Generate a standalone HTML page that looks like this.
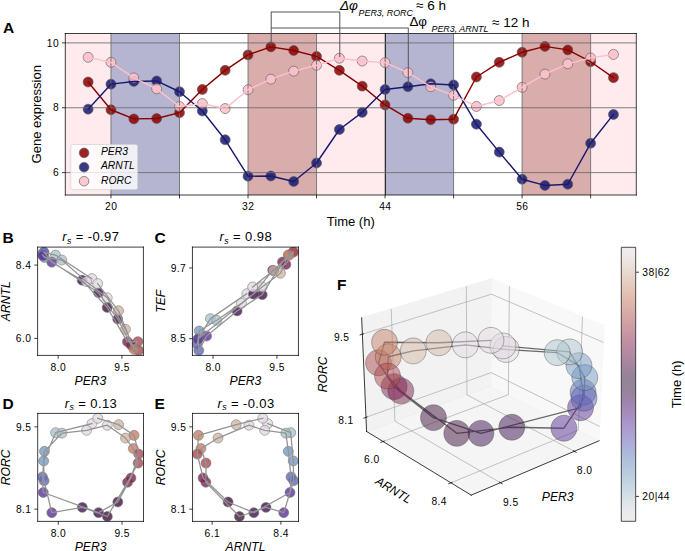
<!DOCTYPE html>
<html><head><meta charset="utf-8"><title>Figure</title>
<style>html,body{margin:0;padding:0;background:#fff;width:685px;height:551px;overflow:hidden}
svg{display:block;font-family:"Liberation Sans",sans-serif}</style></head>
<body>
<svg width="685" height="551" viewBox="0 0 720 579.153285" preserveAspectRatio="none">
<defs>
<style type="text/css">*{stroke-linejoin: round; stroke-linecap: butt}</style>
</defs>
<g id="figure_1">
<g id="patch_1">
<path d="M 0 579.153285 
L 720 579.153285 
L 720 0 
L 0 0 
z
" style="fill: #ffffff"/>
</g>
<g id="axes_1">
<g id="patch_2">
<path d="M 68.636496 204.963504 
L 668.811679 204.963504 
L 668.811679 35.211679 
L 68.636496 35.211679 
z
" style="fill: #ffffff"/>
</g>
<g id="patch_3">
<path d="M 68.636496 204.963504 
L 116.650511 204.963504 
L 116.650511 35.211679 
L 68.636496 35.211679 
z
" clip-path="url(#p367fd7a08f)" style="fill: #ffc0cb; opacity: 0.32"/>
</g>
<g id="patch_4">
<path d="M 116.650511 204.963504 
L 188.671533 204.963504 
L 188.671533 35.211679 
L 116.650511 35.211679 
z
" clip-path="url(#p367fd7a08f)" style="fill: #191970; opacity: 0.32"/>
</g>
<g id="patch_5">
<path d="M 260.692555 204.963504 
L 332.713577 204.963504 
L 332.713577 35.211679 
L 260.692555 35.211679 
z
" clip-path="url(#p367fd7a08f)" style="fill: #8b0000; opacity: 0.32"/>
</g>
<g id="patch_6">
<path d="M 332.713577 204.963504 
L 404.734599 204.963504 
L 404.734599 35.211679 
L 332.713577 35.211679 
z
" clip-path="url(#p367fd7a08f)" style="fill: #ffc0cb; opacity: 0.32"/>
</g>
<g id="patch_7">
<path d="M 404.734599 204.963504 
L 476.75562 204.963504 
L 476.75562 35.211679 
L 404.734599 35.211679 
z
" clip-path="url(#p367fd7a08f)" style="fill: #191970; opacity: 0.32"/>
</g>
<g id="patch_8">
<path d="M 548.776642 204.963504 
L 620.797664 204.963504 
L 620.797664 35.211679 
L 548.776642 35.211679 
z
" clip-path="url(#p367fd7a08f)" style="fill: #8b0000; opacity: 0.32"/>
</g>
<g id="patch_9">
<path d="M 620.797664 204.963504 
L 668.811679 204.963504 
L 668.811679 35.211679 
L 620.797664 35.211679 
z
" clip-path="url(#p367fd7a08f)" style="fill: #ffc0cb; opacity: 0.32"/>
</g>
<g id="line2d_1">
<path d="M 405.19708 204.963504 
L 405.19708 35.211679 
" clip-path="url(#p367fd7a08f)" style="fill: none; stroke: #000000; stroke-width: 1.1; stroke-linecap: square"/>
</g>
<g id="PathCollection_1">
<defs>
<path id="m70aa6a5a08" d="M 0 5.244044 
C 1.390737 5.244044 2.7247 4.691499 3.708099 3.708099 
C 4.691499 2.7247 5.244044 1.390737 5.244044 0 
C 5.244044 -1.390737 4.691499 -2.7247 3.708099 -3.708099 
C 2.7247 -4.691499 1.390737 -5.244044 0 -5.244044 
C -1.390737 -5.244044 -2.7247 -4.691499 -3.708099 -3.708099 
C -4.691499 -2.7247 -5.244044 -1.390737 -5.244044 0 
C -5.244044 1.390737 -4.691499 2.7247 -3.708099 3.708099 
C -2.7247 4.691499 -1.390737 5.244044 0 5.244044 
z
" style="stroke: #606060; stroke-opacity: 0.86; stroke-width: 0.8"/>
</defs>
<g clip-path="url(#p367fd7a08f)">
<use href="#m70aa6a5a08" x="92.643504" y="86.239486" style="fill: #8b0000; fill-opacity: 0.86; stroke: #606060; stroke-opacity: 0.86; stroke-width: 0.8"/>
<use href="#m70aa6a5a08" x="116.650511" y="115.383625" style="fill: #8b0000; fill-opacity: 0.86; stroke: #606060; stroke-opacity: 0.86; stroke-width: 0.8"/>
<use href="#m70aa6a5a08" x="140.657518" y="124.961991" style="fill: #8b0000; fill-opacity: 0.86; stroke: #606060; stroke-opacity: 0.86; stroke-width: 0.8"/>
<use href="#m70aa6a5a08" x="164.664526" y="124.621124" style="fill: #8b0000; fill-opacity: 0.86; stroke: #606060; stroke-opacity: 0.86; stroke-width: 0.8"/>
<use href="#m70aa6a5a08" x="188.671533" y="118.417342" style="fill: #8b0000; fill-opacity: 0.86; stroke: #606060; stroke-opacity: 0.86; stroke-width: 0.8"/>
<use href="#m70aa6a5a08" x="212.67854" y="94.011257" style="fill: #8b0000; fill-opacity: 0.86; stroke: #606060; stroke-opacity: 0.86; stroke-width: 0.8"/>
<use href="#m70aa6a5a08" x="236.685547" y="73.934183" style="fill: #8b0000; fill-opacity: 0.86; stroke: #606060; stroke-opacity: 0.86; stroke-width: 0.8"/>
<use href="#m70aa6a5a08" x="260.692555" y="57.708909" style="fill: #8b0000; fill-opacity: 0.86; stroke: #606060; stroke-opacity: 0.86; stroke-width: 0.8"/>
<use href="#m70aa6a5a08" x="284.699562" y="49.289491" style="fill: #8b0000; fill-opacity: 0.86; stroke: #606060; stroke-opacity: 0.86; stroke-width: 0.8"/>
<use href="#m70aa6a5a08" x="308.706569" y="53.107203" style="fill: #8b0000; fill-opacity: 0.86; stroke: #606060; stroke-opacity: 0.86; stroke-width: 0.8"/>
<use href="#m70aa6a5a08" x="332.713577" y="59.310984" style="fill: #8b0000; fill-opacity: 0.86; stroke: #606060; stroke-opacity: 0.86; stroke-width: 0.8"/>
<use href="#m70aa6a5a08" x="356.720584" y="73.934183" style="fill: #8b0000; fill-opacity: 0.86; stroke: #606060; stroke-opacity: 0.86; stroke-width: 0.8"/>
<use href="#m70aa6a5a08" x="380.727591" y="90.534412" style="fill: #8b0000; fill-opacity: 0.86; stroke: #606060; stroke-opacity: 0.86; stroke-width: 0.8"/>
<use href="#m70aa6a5a08" x="404.734599" y="110.338792" style="fill: #8b0000; fill-opacity: 0.86; stroke: #606060; stroke-opacity: 0.86; stroke-width: 0.8"/>
<use href="#m70aa6a5a08" x="428.741606" y="124.314344" style="fill: #8b0000; fill-opacity: 0.86; stroke: #606060; stroke-opacity: 0.86; stroke-width: 0.8"/>
<use href="#m70aa6a5a08" x="452.748613" y="125.882332" style="fill: #8b0000; fill-opacity: 0.86; stroke: #606060; stroke-opacity: 0.86; stroke-width: 0.8"/>
<use href="#m70aa6a5a08" x="476.75562" y="125.268771" style="fill: #8b0000; fill-opacity: 0.86; stroke: #606060; stroke-opacity: 0.86; stroke-width: 0.8"/>
<use href="#m70aa6a5a08" x="500.762628" y="80.956046" style="fill: #8b0000; fill-opacity: 0.86; stroke: #606060; stroke-opacity: 0.86; stroke-width: 0.8"/>
<use href="#m70aa6a5a08" x="524.769635" y="65.514766" style="fill: #8b0000; fill-opacity: 0.86; stroke: #606060; stroke-opacity: 0.86; stroke-width: 0.8"/>
<use href="#m70aa6a5a08" x="548.776642" y="54.981972" style="fill: #8b0000; fill-opacity: 0.86; stroke: #606060; stroke-opacity: 0.86; stroke-width: 0.8"/>
<use href="#m70aa6a5a08" x="572.78365" y="48.77819" style="fill: #8b0000; fill-opacity: 0.86; stroke: #606060; stroke-opacity: 0.86; stroke-width: 0.8"/>
<use href="#m70aa6a5a08" x="596.790657" y="52.459555" style="fill: #8b0000; fill-opacity: 0.86; stroke: #606060; stroke-opacity: 0.86; stroke-width: 0.8"/>
<use href="#m70aa6a5a08" x="620.797664" y="64.867118" style="fill: #8b0000; fill-opacity: 0.86; stroke: #606060; stroke-opacity: 0.86; stroke-width: 0.8"/>
<use href="#m70aa6a5a08" x="644.804672" y="81.603694" style="fill: #8b0000; fill-opacity: 0.86; stroke: #606060; stroke-opacity: 0.86; stroke-width: 0.8"/>
</g>
</g>
<g id="PathCollection_2">
<defs>
<path id="meea5b03328" d="M 0 5.244044 
C 1.390737 5.244044 2.7247 4.691499 3.708099 3.708099 
C 4.691499 2.7247 5.244044 1.390737 5.244044 0 
C 5.244044 -1.390737 4.691499 -2.7247 3.708099 -3.708099 
C 2.7247 -4.691499 1.390737 -5.244044 0 -5.244044 
C -1.390737 -5.244044 -2.7247 -4.691499 -3.708099 -3.708099 
C -4.691499 -2.7247 -5.244044 -1.390737 -5.244044 0 
C -5.244044 1.390737 -4.691499 2.7247 -3.708099 3.708099 
C -2.7247 4.691499 -1.390737 5.244044 0 5.244044 
z
" style="stroke: #606060; stroke-opacity: 0.86; stroke-width: 0.8"/>
</defs>
<g clip-path="url(#p367fd7a08f)">
<use href="#meea5b03328" x="92.643504" y="114.735977" style="fill: #191970; fill-opacity: 0.86; stroke: #606060; stroke-opacity: 0.86; stroke-width: 0.8"/>
<use href="#meea5b03328" x="116.650511" y="88.455123" style="fill: #191970; fill-opacity: 0.86; stroke: #606060; stroke-opacity: 0.86; stroke-width: 0.8"/>
<use href="#meea5b03328" x="140.657518" y="85.591839" style="fill: #191970; fill-opacity: 0.86; stroke: #606060; stroke-opacity: 0.86; stroke-width: 0.8"/>
<use href="#meea5b03328" x="164.664526" y="85.080538" style="fill: #191970; fill-opacity: 0.86; stroke: #606060; stroke-opacity: 0.86; stroke-width: 0.8"/>
<use href="#meea5b03328" x="188.671533" y="96.431413" style="fill: #191970; fill-opacity: 0.86; stroke: #606060; stroke-opacity: 0.86; stroke-width: 0.8"/>
<use href="#meea5b03328" x="212.67854" y="116.644833" style="fill: #191970; fill-opacity: 0.86; stroke: #606060; stroke-opacity: 0.86; stroke-width: 0.8"/>
<use href="#meea5b03328" x="236.685547" y="146.94792" style="fill: #191970; fill-opacity: 0.86; stroke: #606060; stroke-opacity: 0.86; stroke-width: 0.8"/>
<use href="#meea5b03328" x="260.692555" y="185.227298" style="fill: #191970; fill-opacity: 0.86; stroke: #606060; stroke-opacity: 0.86; stroke-width: 0.8"/>
<use href="#meea5b03328" x="284.699562" y="185.022777" style="fill: #191970; fill-opacity: 0.86; stroke: #606060; stroke-opacity: 0.86; stroke-width: 0.8"/>
<use href="#meea5b03328" x="308.706569" y="190.817518" style="fill: #191970; fill-opacity: 0.86; stroke: #606060; stroke-opacity: 0.86; stroke-width: 0.8"/>
<use href="#meea5b03328" x="332.713577" y="171.354006" style="fill: #191970; fill-opacity: 0.86; stroke: #606060; stroke-opacity: 0.86; stroke-width: 0.8"/>
<use href="#meea5b03328" x="356.720584" y="136.108346" style="fill: #191970; fill-opacity: 0.86; stroke: #606060; stroke-opacity: 0.86; stroke-width: 0.8"/>
<use href="#meea5b03328" x="380.727591" y="118.110562" style="fill: #191970; fill-opacity: 0.86; stroke: #606060; stroke-opacity: 0.86; stroke-width: 0.8"/>
<use href="#meea5b03328" x="404.734599" y="94.011257" style="fill: #191970; fill-opacity: 0.86; stroke: #606060; stroke-opacity: 0.86; stroke-width: 0.8"/>
<use href="#meea5b03328" x="428.741606" y="91.18206" style="fill: #191970; fill-opacity: 0.86; stroke: #606060; stroke-opacity: 0.86; stroke-width: 0.8"/>
<use href="#meea5b03328" x="452.748613" y="88.114256" style="fill: #191970; fill-opacity: 0.86; stroke: #606060; stroke-opacity: 0.86; stroke-width: 0.8"/>
<use href="#meea5b03328" x="476.75562" y="89.273204" style="fill: #191970; fill-opacity: 0.86; stroke: #606060; stroke-opacity: 0.86; stroke-width: 0.8"/>
<use href="#meea5b03328" x="500.762628" y="130.518125" style="fill: #191970; fill-opacity: 0.86; stroke: #606060; stroke-opacity: 0.86; stroke-width: 0.8"/>
<use href="#meea5b03328" x="524.769635" y="159.866784" style="fill: #191970; fill-opacity: 0.86; stroke: #606060; stroke-opacity: 0.86; stroke-width: 0.8"/>
<use href="#meea5b03328" x="548.776642" y="188.397362" style="fill: #191970; fill-opacity: 0.86; stroke: #606060; stroke-opacity: 0.86; stroke-width: 0.8"/>
<use href="#meea5b03328" x="572.78365" y="194.907924" style="fill: #191970; fill-opacity: 0.86; stroke: #606060; stroke-opacity: 0.86; stroke-width: 0.8"/>
<use href="#meea5b03328" x="596.790657" y="193.646715" style="fill: #191970; fill-opacity: 0.86; stroke: #606060; stroke-opacity: 0.86; stroke-width: 0.8"/>
<use href="#meea5b03328" x="620.797664" y="150.629285" style="fill: #191970; fill-opacity: 0.86; stroke: #606060; stroke-opacity: 0.86; stroke-width: 0.8"/>
<use href="#meea5b03328" x="644.804672" y="120.326198" style="fill: #191970; fill-opacity: 0.86; stroke: #606060; stroke-opacity: 0.86; stroke-width: 0.8"/>
</g>
</g>
<g id="PathCollection_3">
<defs>
<path id="m0f92c139e5" d="M 0 5.244044 
C 1.390737 5.244044 2.7247 4.691499 3.708099 3.708099 
C 4.691499 2.7247 5.244044 1.390737 5.244044 0 
C 5.244044 -1.390737 4.691499 -2.7247 3.708099 -3.708099 
C 2.7247 -4.691499 1.390737 -5.244044 0 -5.244044 
C -1.390737 -5.244044 -2.7247 -4.691499 -3.708099 -3.708099 
C -4.691499 -2.7247 -5.244044 -1.390737 -5.244044 0 
C -5.244044 1.390737 -4.691499 2.7247 -3.708099 3.708099 
C -2.7247 4.691499 -1.390737 5.244044 0 5.244044 
z
" style="stroke: #606060; stroke-opacity: 0.86; stroke-width: 0.8"/>
</defs>
<g clip-path="url(#p367fd7a08f)">
<use href="#m0f92c139e5" x="92.643504" y="60.231325" style="fill: #ffc0cb; fill-opacity: 0.86; stroke: #606060; stroke-opacity: 0.86; stroke-width: 0.8"/>
<use href="#m0f92c139e5" x="116.650511" y="65.514766" style="fill: #ffc0cb; fill-opacity: 0.86; stroke: #606060; stroke-opacity: 0.86; stroke-width: 0.8"/>
<use href="#m0f92c139e5" x="140.657518" y="81.910474" style="fill: #ffc0cb; fill-opacity: 0.86; stroke: #606060; stroke-opacity: 0.86; stroke-width: 0.8"/>
<use href="#m0f92c139e5" x="164.664526" y="93.397696" style="fill: #ffc0cb; fill-opacity: 0.86; stroke: #606060; stroke-opacity: 0.86; stroke-width: 0.8"/>
<use href="#m0f92c139e5" x="188.671533" y="111.90678" style="fill: #ffc0cb; fill-opacity: 0.86; stroke: #606060; stroke-opacity: 0.86; stroke-width: 0.8"/>
<use href="#m0f92c139e5" x="212.67854" y="108.838976" style="fill: #ffc0cb; fill-opacity: 0.86; stroke: #606060; stroke-opacity: 0.86; stroke-width: 0.8"/>
<use href="#m0f92c139e5" x="236.685547" y="114.122417" style="fill: #ffc0cb; fill-opacity: 0.86; stroke: #606060; stroke-opacity: 0.86; stroke-width: 0.8"/>
<use href="#m0f92c139e5" x="260.692555" y="94.318037" style="fill: #ffc0cb; fill-opacity: 0.86; stroke: #606060; stroke-opacity: 0.86; stroke-width: 0.8"/>
<use href="#m0f92c139e5" x="284.699562" y="83.171682" style="fill: #ffc0cb; fill-opacity: 0.86; stroke: #606060; stroke-opacity: 0.86; stroke-width: 0.8"/>
<use href="#m0f92c139e5" x="308.706569" y="74.752265" style="fill: #ffc0cb; fill-opacity: 0.86; stroke: #606060; stroke-opacity: 0.86; stroke-width: 0.8"/>
<use href="#m0f92c139e5" x="332.713577" y="68.650743" style="fill: #ffc0cb; fill-opacity: 0.86; stroke: #606060; stroke-opacity: 0.86; stroke-width: 0.8"/>
<use href="#m0f92c139e5" x="356.720584" y="61.185753" style="fill: #ffc0cb; fill-opacity: 0.86; stroke: #606060; stroke-opacity: 0.86; stroke-width: 0.8"/>
<use href="#m0f92c139e5" x="380.727591" y="64.151297" style="fill: #ffc0cb; fill-opacity: 0.86; stroke: #606060; stroke-opacity: 0.86; stroke-width: 0.8"/>
<use href="#m0f92c139e5" x="404.734599" y="65.821546" style="fill: #ffc0cb; fill-opacity: 0.86; stroke: #606060; stroke-opacity: 0.86; stroke-width: 0.8"/>
<use href="#m0f92c139e5" x="428.741606" y="76.35434" style="fill: #ffc0cb; fill-opacity: 0.86; stroke: #606060; stroke-opacity: 0.86; stroke-width: 0.8"/>
<use href="#m0f92c139e5" x="452.748613" y="91.18206" style="fill: #ffc0cb; fill-opacity: 0.86; stroke: #606060; stroke-opacity: 0.86; stroke-width: 0.8"/>
<use href="#m0f92c139e5" x="476.75562" y="100.215038" style="fill: #ffc0cb; fill-opacity: 0.86; stroke: #606060; stroke-opacity: 0.86; stroke-width: 0.8"/>
<use href="#m0f92c139e5" x="500.762628" y="111.90678" style="fill: #ffc0cb; fill-opacity: 0.86; stroke: #606060; stroke-opacity: 0.86; stroke-width: 0.8"/>
<use href="#m0f92c139e5" x="524.769635" y="105.702999" style="fill: #ffc0cb; fill-opacity: 0.86; stroke: #606060; stroke-opacity: 0.86; stroke-width: 0.8"/>
<use href="#m0f92c139e5" x="548.776642" y="91.79562" style="fill: #ffc0cb; fill-opacity: 0.86; stroke: #606060; stroke-opacity: 0.86; stroke-width: 0.8"/>
<use href="#m0f92c139e5" x="572.78365" y="77.922329" style="fill: #ffc0cb; fill-opacity: 0.86; stroke: #606060; stroke-opacity: 0.86; stroke-width: 0.8"/>
<use href="#m0f92c139e5" x="596.790657" y="67.082754" style="fill: #ffc0cb; fill-opacity: 0.86; stroke: #606060; stroke-opacity: 0.86; stroke-width: 0.8"/>
<use href="#m0f92c139e5" x="620.797664" y="60.878973" style="fill: #ffc0cb; fill-opacity: 0.86; stroke: #606060; stroke-opacity: 0.86; stroke-width: 0.8"/>
<use href="#m0f92c139e5" x="644.804672" y="57.197608" style="fill: #ffc0cb; fill-opacity: 0.86; stroke: #606060; stroke-opacity: 0.86; stroke-width: 0.8"/>
</g>
</g>
<g id="matplotlib.axis_1">
<g id="xtick_1">
<g id="line2d_2">
<path d="M 116.650511 204.963504 
L 116.650511 35.211679 
" clip-path="url(#p367fd7a08f)" style="fill: none; stroke: #6a6a6a; stroke-width: 0.9; stroke-linecap: square"/>
</g>
<g id="line2d_3">
<defs>
<path id="m1504cfccaf" d="M 0 0 
L 0 3.5 
" style="stroke: #000000; stroke-width: 0.8"/>
</defs>
<g>
<use href="#m1504cfccaf" x="116.650511" y="204.963504" style="stroke: #000000; stroke-width: 0.8"/>
</g>
</g>
<g id="text_1">
<text style="font-size: 10.8px; font-family: 'Liberation Sans'; letter-spacing: 0.45px; text-anchor: middle" x="116.8755" y="220.890129" transform="rotate(-0 116.650511 220.890129)">20</text>
</g>
</g>
<g id="xtick_2">
<g id="line2d_4">
<path d="M 188.671533 204.963504 
L 188.671533 35.211679 
" clip-path="url(#p367fd7a08f)" style="fill: none; stroke: #6a6a6a; stroke-width: 0.9; stroke-linecap: square"/>
</g>
<g id="line2d_5">
<g>
<use href="#m1504cfccaf" x="188.671533" y="204.963504" style="stroke: #000000; stroke-width: 0.8"/>
</g>
</g>
</g>
<g id="xtick_3">
<g id="line2d_6">
<path d="M 260.692555 204.963504 
L 260.692555 35.211679 
" clip-path="url(#p367fd7a08f)" style="fill: none; stroke: #6a6a6a; stroke-width: 0.9; stroke-linecap: square"/>
</g>
<g id="line2d_7">
<g>
<use href="#m1504cfccaf" x="260.692555" y="204.963504" style="stroke: #000000; stroke-width: 0.8"/>
</g>
</g>
<g id="text_2">
<text style="font-size: 10.8px; font-family: 'Liberation Sans'; letter-spacing: 0.45px; text-anchor: middle" x="260.9176" y="220.890129" transform="rotate(-0 260.692555 220.890129)">32</text>
</g>
</g>
<g id="xtick_4">
<g id="line2d_8">
<path d="M 332.713577 204.963504 
L 332.713577 35.211679 
" clip-path="url(#p367fd7a08f)" style="fill: none; stroke: #6a6a6a; stroke-width: 0.9; stroke-linecap: square"/>
</g>
<g id="line2d_9">
<g>
<use href="#m1504cfccaf" x="332.713577" y="204.963504" style="stroke: #000000; stroke-width: 0.8"/>
</g>
</g>
</g>
<g id="xtick_5">
<g id="line2d_10">
<path d="M 404.734599 204.963504 
L 404.734599 35.211679 
" clip-path="url(#p367fd7a08f)" style="fill: none; stroke: #6a6a6a; stroke-width: 0.9; stroke-linecap: square"/>
</g>
<g id="line2d_11">
<g>
<use href="#m1504cfccaf" x="404.734599" y="204.963504" style="stroke: #000000; stroke-width: 0.8"/>
</g>
</g>
<g id="text_3">
<text style="font-size: 10.8px; font-family: 'Liberation Sans'; letter-spacing: 0.45px; text-anchor: middle" x="404.9596" y="220.890129" transform="rotate(-0 404.734599 220.890129)">44</text>
</g>
</g>
<g id="xtick_6">
<g id="line2d_12">
<path d="M 476.75562 204.963504 
L 476.75562 35.211679 
" clip-path="url(#p367fd7a08f)" style="fill: none; stroke: #6a6a6a; stroke-width: 0.9; stroke-linecap: square"/>
</g>
<g id="line2d_13">
<g>
<use href="#m1504cfccaf" x="476.75562" y="204.963504" style="stroke: #000000; stroke-width: 0.8"/>
</g>
</g>
</g>
<g id="xtick_7">
<g id="line2d_14">
<path d="M 548.776642 204.963504 
L 548.776642 35.211679 
" clip-path="url(#p367fd7a08f)" style="fill: none; stroke: #6a6a6a; stroke-width: 0.9; stroke-linecap: square"/>
</g>
<g id="line2d_15">
<g>
<use href="#m1504cfccaf" x="548.776642" y="204.963504" style="stroke: #000000; stroke-width: 0.8"/>
</g>
</g>
<g id="text_4">
<text style="font-size: 10.8px; font-family: 'Liberation Sans'; letter-spacing: 0.45px; text-anchor: middle" x="549.0016" y="220.890129" transform="rotate(-0 548.776642 220.890129)">56</text>
</g>
</g>
<g id="xtick_8">
<g id="line2d_16">
<path d="M 620.797664 204.963504 
L 620.797664 35.211679 
" clip-path="url(#p367fd7a08f)" style="fill: none; stroke: #6a6a6a; stroke-width: 0.9; stroke-linecap: square"/>
</g>
<g id="line2d_17">
<g>
<use href="#m1504cfccaf" x="620.797664" y="204.963504" style="stroke: #000000; stroke-width: 0.8"/>
</g>
</g>
</g>
<g id="text_5">
<text style="font-size: 13.7px; font-family: 'Liberation Sans'; text-anchor: middle" x="368.724088" y="237.059347" transform="rotate(-0 368.724088 237.059347)">Time (h)</text>
</g>
</g>
<g id="matplotlib.axis_2">
<g id="ytick_1">
<g id="line2d_18">
<path d="M 68.636496 181.443673 
L 668.811679 181.443673 
" clip-path="url(#p367fd7a08f)" style="fill: none; stroke: #6a6a6a; stroke-width: 0.9; stroke-linecap: square"/>
</g>
<g id="line2d_19">
<defs>
<path id="m5d545ce8f8" d="M 0 0 
L -3.5 0 
" style="stroke: #000000; stroke-width: 0.8"/>
</defs>
<g>
<use href="#m5d545ce8f8" x="68.636496" y="181.443673" style="stroke: #000000; stroke-width: 0.8"/>
</g>
</g>
<g id="text_6">
<text style="font-size: 10.8px; font-family: 'Liberation Sans'; letter-spacing: 0.45px; text-anchor: end" x="62.0865" y="185.356985" transform="rotate(-0 61.636496 185.356985)">6</text>
</g>
</g>
<g id="ytick_2">
<g id="line2d_20">
<path d="M 68.636496 113.270249 
L 668.811679 113.270249 
" clip-path="url(#p367fd7a08f)" style="fill: none; stroke: #6a6a6a; stroke-width: 0.9; stroke-linecap: square"/>
</g>
<g id="line2d_21">
<g>
<use href="#m5d545ce8f8" x="68.636496" y="113.270249" style="stroke: #000000; stroke-width: 0.8"/>
</g>
</g>
<g id="text_7">
<text style="font-size: 10.8px; font-family: 'Liberation Sans'; letter-spacing: 0.45px; text-anchor: end" x="62.0865" y="117.183561" transform="rotate(-0 61.636496 117.183561)">8</text>
</g>
</g>
<g id="ytick_3">
<g id="line2d_22">
<path d="M 68.636496 45.096825 
L 668.811679 45.096825 
" clip-path="url(#p367fd7a08f)" style="fill: none; stroke: #6a6a6a; stroke-width: 0.9; stroke-linecap: square"/>
</g>
<g id="line2d_23">
<g>
<use href="#m5d545ce8f8" x="68.636496" y="45.096825" style="stroke: #000000; stroke-width: 0.8"/>
</g>
</g>
<g id="text_8">
<text style="font-size: 10.8px; font-family: 'Liberation Sans'; letter-spacing: 0.45px; text-anchor: end" x="62.0865" y="49.010138" transform="rotate(-0 61.636496 49.010138)">10</text>
</g>
</g>
<g id="text_9">
<text style="font-size: 13.7px; font-family: 'Liberation Sans'; text-anchor: middle" x="42.782121" y="120.087591" transform="rotate(-90 42.782121 120.087591)">Gene expression</text>
</g>
</g>
<g id="line2d_24">
<path d="M 92.643504 86.239486 
L 116.650511 115.383625 
L 140.657518 124.961991 
L 164.664526 124.621124 
L 188.671533 118.417342 
L 212.67854 94.011257 
L 236.685547 73.934183 
L 260.692555 57.708909 
L 284.699562 49.289491 
L 308.706569 53.107203 
L 332.713577 59.310984 
L 356.720584 73.934183 
L 380.727591 90.534412 
L 404.734599 110.338792 
L 428.741606 124.314344 
L 452.748613 125.882332 
L 476.75562 125.268771 
L 500.762628 80.956046 
L 524.769635 65.514766 
L 548.776642 54.981972 
L 572.78365 48.77819 
L 596.790657 52.459555 
L 620.797664 64.867118 
L 644.804672 81.603694 
" clip-path="url(#p367fd7a08f)" style="fill: none; stroke: #8b0000; stroke-width: 1.5; stroke-linecap: square"/>
</g>
<g id="line2d_25">
<path d="M 92.643504 114.735977 
L 116.650511 88.455123 
L 140.657518 85.591839 
L 164.664526 85.080538 
L 188.671533 96.431413 
L 212.67854 116.644833 
L 236.685547 146.94792 
L 260.692555 185.227298 
L 284.699562 185.022777 
L 308.706569 190.817518 
L 332.713577 171.354006 
L 356.720584 136.108346 
L 380.727591 118.110562 
L 404.734599 94.011257 
L 428.741606 91.18206 
L 452.748613 88.114256 
L 476.75562 89.273204 
L 500.762628 130.518125 
L 524.769635 159.866784 
L 548.776642 188.397362 
L 572.78365 194.907924 
L 596.790657 193.646715 
L 620.797664 150.629285 
L 644.804672 120.326198 
" clip-path="url(#p367fd7a08f)" style="fill: none; stroke: #191970; stroke-width: 1.5; stroke-linecap: square"/>
</g>
<g id="line2d_26">
<path d="M 92.643504 60.231325 
L 116.650511 65.514766 
L 140.657518 81.910474 
L 164.664526 93.397696 
L 188.671533 111.90678 
L 212.67854 108.838976 
L 236.685547 114.122417 
L 260.692555 94.318037 
L 284.699562 83.171682 
L 308.706569 74.752265 
L 332.713577 68.650743 
L 356.720584 61.185753 
L 380.727591 64.151297 
L 404.734599 65.821546 
L 428.741606 76.35434 
L 452.748613 91.18206 
L 476.75562 100.215038 
L 500.762628 111.90678 
L 524.769635 105.702999 
L 548.776642 91.79562 
L 572.78365 77.922329 
L 596.790657 67.082754 
L 620.797664 60.878973 
L 644.804672 57.197608 
" clip-path="url(#p367fd7a08f)" style="fill: none; stroke: #ffc0cb; stroke-width: 1.5; stroke-linecap: square"/>
</g>
<g id="patch_10">
<path d="M 68.636496 204.963504 
L 68.636496 35.211679 
" style="fill: none; stroke: #000000; stroke-width: 0.8; stroke-linejoin: miter; stroke-linecap: square"/>
</g>
<g id="patch_11">
<path d="M 668.811679 204.963504 
L 668.811679 35.211679 
" style="fill: none; stroke: #000000; stroke-width: 0.8; stroke-linejoin: miter; stroke-linecap: square"/>
</g>
<g id="patch_12">
<path d="M 68.636496 204.963504 
L 668.811679 204.963504 
" style="fill: none; stroke: #000000; stroke-width: 0.8; stroke-linejoin: miter; stroke-linecap: square"/>
</g>
<g id="patch_13">
<path d="M 68.636496 35.211679 
L 668.811679 35.211679 
" style="fill: none; stroke: #000000; stroke-width: 0.8; stroke-linejoin: miter; stroke-linecap: square"/>
</g>
</g>
<g id="axes_2">
<g id="patch_14">
<path d="M 39.521168 373.559124 
L 150.727007 373.559124 
L 150.727007 259.725547 
L 39.521168 259.725547 
z
" style="fill: #ffffff"/>
</g>
<g id="PathCollection_4">
<defs>
<path id="C0_0_9ae18ec735" d="M 0 5.244044 
C 1.390737 5.244044 2.7247 4.691499 3.708099 3.708099 
C 4.691499 2.7247 5.244044 1.390737 5.244044 -0 
C 5.244044 -1.390737 4.691499 -2.7247 3.708099 -3.708099 
C 2.7247 -4.691499 1.390737 -5.244044 0 -5.244044 
C -1.390737 -5.244044 -2.7247 -4.691499 -3.708099 -3.708099 
C -4.691499 -2.7247 -5.244044 -1.390737 -5.244044 0 
C -5.244044 1.390737 -4.691499 2.7247 -3.708099 3.708099 
C -2.7247 4.691499 -1.390737 5.244044 0 5.244044 
z
"/>
</defs>
<g clip-path="url(#pf50a4223b5)">
<use href="#C0_0_9ae18ec735" x="96.554273" y="292.842697" style="fill: #e2d9e2; fill-opacity: 0.8; stroke: #808080; stroke-opacity: 0.8; stroke-width: 0.8"/>
</g>
<g clip-path="url(#pf50a4223b5)">
<use href="#C0_0_9ae18ec735" x="58.341511" y="268.07951" style="fill: #adc3cd; fill-opacity: 0.8; stroke: #808080; stroke-opacity: 0.8; stroke-width: 0.8"/>
</g>
<g clip-path="url(#pf50a4223b5)">
<use href="#C0_0_9ae18ec735" x="45.782698" y="265.381575" style="fill: #759ac1; fill-opacity: 0.8; stroke: #808080; stroke-opacity: 0.8; stroke-width: 0.8"/>
</g>
<g clip-path="url(#pf50a4223b5)">
<use href="#C0_0_9ae18ec735" x="46.22963" y="264.899801" style="fill: #6068b6; fill-opacity: 0.8; stroke: #808080; stroke-opacity: 0.8; stroke-width: 0.8"/>
</g>
<g clip-path="url(#pf50a4223b5)">
<use href="#C0_0_9ae18ec735" x="54.363809" y="275.595185" style="fill: #5b3196; fill-opacity: 0.8; stroke: #808080; stroke-opacity: 0.8; stroke-width: 0.8"/>
</g>
<g clip-path="url(#pf50a4223b5)">
<use href="#C0_0_9ae18ec735" x="86.364203" y="294.64132" style="fill: #3e1150; fill-opacity: 0.8; stroke: #808080; stroke-opacity: 0.8; stroke-width: 0.8"/>
</g>
<g clip-path="url(#pf50a4223b5)">
<use href="#C0_0_9ae18ec735" x="112.68855" y="323.194463" style="fill: #41123d; fill-opacity: 0.8; stroke: #808080; stroke-opacity: 0.8; stroke-width: 0.8"/>
</g>
<g clip-path="url(#pf50a4223b5)">
<use href="#C0_0_9ae18ec735" x="133.962555" y="359.263282" style="fill: #7b2150; fill-opacity: 0.8; stroke: #808080; stroke-opacity: 0.8; stroke-width: 0.8"/>
</g>
<g clip-path="url(#pf50a4223b5)">
<use href="#C0_0_9ae18ec735" x="145.001797" y="359.070572" style="fill: #a94950; fill-opacity: 0.8; stroke: #808080; stroke-opacity: 0.8; stroke-width: 0.8"/>
</g>
<g clip-path="url(#pf50a4223b5)">
<use href="#C0_0_9ae18ec735" x="139.996149" y="364.530678" style="fill: #c48065; fill-opacity: 0.8; stroke: #808080; stroke-opacity: 0.8; stroke-width: 0.8"/>
</g>
<g clip-path="url(#pf50a4223b5)">
<use href="#C0_0_9ae18ec735" x="131.86197" y="346.191145" style="fill: #d2b7a5; fill-opacity: 0.8; stroke: #808080; stroke-opacity: 0.8; stroke-width: 0.8"/>
</g>
<g clip-path="url(#pf50a4223b5)">
<use href="#C0_0_9ae18ec735" x="112.68855" y="312.980853" style="fill: #e2d9e2; fill-opacity: 0.8; stroke: #808080; stroke-opacity: 0.8; stroke-width: 0.8"/>
</g>
<g clip-path="url(#pf50a4223b5)">
<use href="#C0_0_9ae18ec735" x="90.922919" y="296.022406" style="fill: #e2d9e2; fill-opacity: 0.8; stroke: #808080; stroke-opacity: 0.8; stroke-width: 0.8"/>
</g>
<g clip-path="url(#pf50a4223b5)">
<use href="#C0_0_9ae18ec735" x="64.956118" y="273.314788" style="fill: #adc3cd; fill-opacity: 0.8; stroke: #808080; stroke-opacity: 0.8; stroke-width: 0.8"/>
</g>
<g clip-path="url(#pf50a4223b5)">
<use href="#C0_0_9ae18ec735" x="46.63187" y="270.648971" style="fill: #759ac1; fill-opacity: 0.8; stroke: #808080; stroke-opacity: 0.8; stroke-width: 0.8"/>
</g>
<g clip-path="url(#pf50a4223b5)">
<use href="#C0_0_9ae18ec735" x="44.575979" y="267.758327" style="fill: #6068b6; fill-opacity: 0.8; stroke: #808080; stroke-opacity: 0.8; stroke-width: 0.8"/>
</g>
<g clip-path="url(#pf50a4223b5)">
<use href="#C0_0_9ae18ec735" x="45.380458" y="268.850348" style="fill: #5b3196; fill-opacity: 0.8; stroke: #808080; stroke-opacity: 0.8; stroke-width: 0.8"/>
</g>
<g clip-path="url(#pf50a4223b5)">
<use href="#C0_0_9ae18ec735" x="103.481732" y="307.713456" style="fill: #3e1150; fill-opacity: 0.8; stroke: #808080; stroke-opacity: 0.8; stroke-width: 0.8"/>
</g>
<g clip-path="url(#pf50a4223b5)">
<use href="#C0_0_9ae18ec735" x="123.727792" y="335.367288" style="fill: #41123d; fill-opacity: 0.8; stroke: #808080; stroke-opacity: 0.8; stroke-width: 0.8"/>
</g>
<g clip-path="url(#pf50a4223b5)">
<use href="#C0_0_9ae18ec735" x="137.538018" y="362.250281" style="fill: #7b2150; fill-opacity: 0.8; stroke: #808080; stroke-opacity: 0.8; stroke-width: 0.8"/>
</g>
<g clip-path="url(#pf50a4223b5)">
<use href="#C0_0_9ae18ec735" x="145.672196" y="368.384871" style="fill: #a94950; fill-opacity: 0.8; stroke: #808080; stroke-opacity: 0.8; stroke-width: 0.8"/>
</g>
<g clip-path="url(#pf50a4223b5)">
<use href="#C0_0_9ae18ec735" x="140.845321" y="367.196495" style="fill: #c48065; fill-opacity: 0.8; stroke: #808080; stroke-opacity: 0.8; stroke-width: 0.8"/>
</g>
<g clip-path="url(#pf50a4223b5)">
<use href="#C0_0_9ae18ec735" x="124.576964" y="326.663236" style="fill: #d2b7a5; fill-opacity: 0.8; stroke: #808080; stroke-opacity: 0.8; stroke-width: 0.8"/>
</g>
<g clip-path="url(#pf50a4223b5)">
<use href="#C0_0_9ae18ec735" x="102.63256" y="298.110093" style="fill: #e2d9e2; fill-opacity: 0.8; stroke: #808080; stroke-opacity: 0.8; stroke-width: 0.8"/>
</g>
</g>
<g id="matplotlib.axis_3">
<g id="xtick_9">
<g id="line2d_27">
<g>
<use href="#m1504cfccaf" x="61.112495" y="373.559124" style="stroke: #000000; stroke-width: 0.8"/>
</g>
</g>
<g id="text_10">
<text style="font-size: 10.8px; font-family: 'Liberation Sans'; letter-spacing: 0.45px; text-anchor: middle" x="61.3375" y="389.485749" transform="rotate(-0 61.112495 389.485749)">8.0</text>
</g>
</g>
<g id="xtick_10">
<g id="line2d_28">
<g>
<use href="#m1504cfccaf" x="128.152427" y="373.559124" style="stroke: #000000; stroke-width: 0.8"/>
</g>
</g>
<g id="text_11">
<text style="font-size: 10.8px; font-family: 'Liberation Sans'; letter-spacing: 0.45px; text-anchor: middle" x="128.3774" y="389.485749" transform="rotate(-0 128.152427 389.485749)">9.5</text>
</g>
</g>
<g id="text_12">
<text style="font-style: italic; font-size: 12.8px; font-family: 'Liberation Sans'; text-anchor: middle" x="95.124088" y="405.002749" transform="rotate(-0 95.124088 405.002749)">PER3</text>
</g>
</g>
<g id="matplotlib.axis_4">
<g id="ytick_4">
<g id="line2d_29">
<g>
<use href="#m5d545ce8f8" x="39.521168" y="355.698153" style="stroke: #000000; stroke-width: 0.8"/>
</g>
</g>
<g id="text_13">
<text style="font-size: 10.8px; font-family: 'Liberation Sans'; letter-spacing: 0.45px; text-anchor: end" x="32.9712" y="359.611466" transform="rotate(-0 32.521168 359.611466)">6.0</text>
</g>
</g>
<g id="ytick_5">
<g id="line2d_30">
<g>
<use href="#m5d545ce8f8" x="39.521168" y="278.614303" style="stroke: #000000; stroke-width: 0.8"/>
</g>
</g>
<g id="text_14">
<text style="font-size: 10.8px; font-family: 'Liberation Sans'; letter-spacing: 0.45px; text-anchor: end" x="32.9712" y="282.527615" transform="rotate(-0 32.521168 282.527615)">8.4</text>
</g>
</g>
<g id="text_15">
<text style="font-style: italic; font-size: 12.8px; font-family: 'Liberation Sans'; text-anchor: middle" x="10.853168" y="316.642336" transform="rotate(-90 10.853168 316.642336)">ARNTL</text>
</g>
</g>
<g id="line2d_31">
<path d="M 96.554273 292.842697 
L 58.341511 268.07951 
L 45.782698 265.381575 
L 46.22963 264.899801 
L 54.363809 275.595185 
L 86.364203 294.64132 
L 112.68855 323.194463 
L 133.962555 359.263282 
L 145.001797 359.070572 
L 139.996149 364.530678 
L 131.86197 346.191145 
L 112.68855 312.980853 
L 90.922919 296.022406 
L 64.956118 273.314788 
L 46.63187 270.648971 
L 44.575979 267.758327 
L 45.380458 268.850348 
L 103.481732 307.713456 
L 123.727792 335.367288 
L 137.538018 362.250281 
L 145.672196 368.384871 
L 140.845321 367.196495 
L 124.576964 326.663236 
L 102.63256 298.110093 
" clip-path="url(#pf50a4223b5)" style="fill: none; stroke: #949494; stroke-width: 1.35; stroke-linecap: square"/>
</g>
<g id="patch_15">
<path d="M 39.521168 373.559124 
L 39.521168 259.725547 
" style="fill: none; stroke: #000000; stroke-width: 0.8; stroke-linejoin: miter; stroke-linecap: square"/>
</g>
<g id="patch_16">
<path d="M 150.727007 373.559124 
L 150.727007 259.725547 
" style="fill: none; stroke: #000000; stroke-width: 0.8; stroke-linejoin: miter; stroke-linecap: square"/>
</g>
<g id="patch_17">
<path d="M 39.521168 373.559124 
L 150.727007 373.559124 
" style="fill: none; stroke: #000000; stroke-width: 0.8; stroke-linejoin: miter; stroke-linecap: square"/>
</g>
<g id="patch_18">
<path d="M 39.521168 259.725547 
L 150.727007 259.725547 
" style="fill: none; stroke: #000000; stroke-width: 0.8; stroke-linejoin: miter; stroke-linecap: square"/>
</g>
</g>
<g id="axes_3">
<g id="patch_19">
<path d="M 202.283212 373.559124 
L 313.69927 373.559124 
L 313.69927 259.725547 
L 202.283212 259.725547 
z
" style="fill: #ffffff"/>
</g>
<g id="PathCollection_5">
<defs>
<path id="C1_0_9ae18ec735" d="M 0 5.244044 
C 1.390737 5.244044 2.7247 4.691499 3.708099 3.708099 
C 4.691499 2.7247 5.244044 1.390737 5.244044 -0 
C 5.244044 -1.390737 4.691499 -2.7247 3.708099 -3.708099 
C 2.7247 -4.691499 1.390737 -5.244044 0 -5.244044 
C -1.390737 -5.244044 -2.7247 -4.691499 -3.708099 -3.708099 
C -4.691499 -2.7247 -5.244044 -1.390737 -5.244044 0 
C -5.244044 1.390737 -4.691499 2.7247 -3.708099 3.708099 
C -2.7247 4.691499 -1.390737 5.244044 0 5.244044 
z
"/>
</defs>
<g clip-path="url(#p6135577546)">
<use href="#C1_0_9ae18ec735" x="259.42413" y="308.710546" style="fill: #e2d9e2; fill-opacity: 0.8; stroke: #808080; stroke-opacity: 0.8; stroke-width: 0.8"/>
</g>
<g clip-path="url(#p6135577546)">
<use href="#C1_0_9ae18ec735" x="221.139133" y="334.922633" style="fill: #adc3cd; fill-opacity: 0.8; stroke: #808080; stroke-opacity: 0.8; stroke-width: 0.8"/>
</g>
<g clip-path="url(#p6135577546)">
<use href="#C1_0_9ae18ec735" x="208.556578" y="355.991449" style="fill: #759ac1; fill-opacity: 0.8; stroke: #808080; stroke-opacity: 0.8; stroke-width: 0.8"/>
</g>
<g clip-path="url(#p6135577546)">
<use href="#C1_0_9ae18ec735" x="209.004356" y="368.384871" style="fill: #6068b6; fill-opacity: 0.8; stroke: #808080; stroke-opacity: 0.8; stroke-width: 0.8"/>
</g>
<g clip-path="url(#p6135577546)">
<use href="#C1_0_9ae18ec735" x="217.153911" y="353.264896" style="fill: #5b3196; fill-opacity: 0.8; stroke: #808080; stroke-opacity: 0.8; stroke-width: 0.8"/>
</g>
<g clip-path="url(#p6135577546)">
<use href="#C1_0_9ae18ec735" x="249.214797" y="326.804941" style="fill: #3e1150; fill-opacity: 0.8; stroke: #808080; stroke-opacity: 0.8; stroke-width: 0.8"/>
</g>
<g clip-path="url(#p6135577546)">
<use href="#C1_0_9ae18ec735" x="275.588906" y="309.763987" style="fill: #41123d; fill-opacity: 0.8; stroke: #808080; stroke-opacity: 0.8; stroke-width: 0.8"/>
</g>
<g clip-path="url(#p6135577546)">
<use href="#C1_0_9ae18ec735" x="296.903127" y="275.434209" style="fill: #7b2150; fill-opacity: 0.8; stroke: #808080; stroke-opacity: 0.8; stroke-width: 0.8"/>
</g>
<g clip-path="url(#p6135577546)">
<use href="#C1_0_9ae18ec735" x="307.963237" y="264.899801" style="fill: #a94950; fill-opacity: 0.8; stroke: #808080; stroke-opacity: 0.8; stroke-width: 0.8"/>
</g>
<g clip-path="url(#p6135577546)">
<use href="#C1_0_9ae18ec735" x="302.948126" y="267.998156" style="fill: #c48065; fill-opacity: 0.8; stroke: #808080; stroke-opacity: 0.8; stroke-width: 0.8"/>
</g>
<g clip-path="url(#p6135577546)">
<use href="#C1_0_9ae18ec735" x="294.798571" y="287.20796" style="fill: #d2b7a5; fill-opacity: 0.8; stroke: #808080; stroke-opacity: 0.8; stroke-width: 0.8"/>
</g>
<g clip-path="url(#p6135577546)">
<use href="#C1_0_9ae18ec735" x="275.588906" y="301.646296" style="fill: #e2d9e2; fill-opacity: 0.8; stroke: #808080; stroke-opacity: 0.8; stroke-width: 0.8"/>
</g>
<g clip-path="url(#p6135577546)">
<use href="#C1_0_9ae18ec735" x="253.78213" y="318.873152" style="fill: #e2d9e2; fill-opacity: 0.8; stroke: #808080; stroke-opacity: 0.8; stroke-width: 0.8"/>
</g>
<g clip-path="url(#p6135577546)">
<use href="#C1_0_9ae18ec735" x="227.766243" y="336.657712" style="fill: #adc3cd; fill-opacity: 0.8; stroke: #808080; stroke-opacity: 0.8; stroke-width: 0.8"/>
</g>
<g clip-path="url(#p6135577546)">
<use href="#C1_0_9ae18ec735" x="209.407356" y="347.873758" style="fill: #759ac1; fill-opacity: 0.8; stroke: #808080; stroke-opacity: 0.8; stroke-width: 0.8"/>
</g>
<g clip-path="url(#p6135577546)">
<use href="#C1_0_9ae18ec735" x="207.347578" y="361.816357" style="fill: #6068b6; fill-opacity: 0.8; stroke: #808080; stroke-opacity: 0.8; stroke-width: 0.8"/>
</g>
<g clip-path="url(#p6135577546)">
<use href="#C1_0_9ae18ec735" x="208.153578" y="356.425219" style="fill: #5b3196; fill-opacity: 0.8; stroke: #808080; stroke-opacity: 0.8; stroke-width: 0.8"/>
</g>
<g clip-path="url(#p6135577546)">
<use href="#C1_0_9ae18ec735" x="266.364685" y="309.144316" style="fill: #3e1150; fill-opacity: 0.8; stroke: #808080; stroke-opacity: 0.8; stroke-width: 0.8"/>
</g>
<g clip-path="url(#p6135577546)">
<use href="#C1_0_9ae18ec735" x="286.649017" y="284.109604" style="fill: #41123d; fill-opacity: 0.8; stroke: #808080; stroke-opacity: 0.8; stroke-width: 0.8"/>
</g>
<g clip-path="url(#p6135577546)">
<use href="#C1_0_9ae18ec735" x="300.485349" y="277.912894" style="fill: #7b2150; fill-opacity: 0.8; stroke: #808080; stroke-opacity: 0.8; stroke-width: 0.8"/>
</g>
<g clip-path="url(#p6135577546)">
<use href="#C1_0_9ae18ec735" x="308.634904" y="264.899801" style="fill: #a94950; fill-opacity: 0.8; stroke: #808080; stroke-opacity: 0.8; stroke-width: 0.8"/>
</g>
<g clip-path="url(#p6135577546)">
<use href="#C1_0_9ae18ec735" x="303.798904" y="268.307992" style="fill: #c48065; fill-opacity: 0.8; stroke: #808080; stroke-opacity: 0.8; stroke-width: 0.8"/>
</g>
<g clip-path="url(#p6135577546)">
<use href="#C1_0_9ae18ec735" x="287.499794" y="284.357473" style="fill: #d2b7a5; fill-opacity: 0.8; stroke: #808080; stroke-opacity: 0.8; stroke-width: 0.8"/>
</g>
<g clip-path="url(#p6135577546)">
<use href="#C1_0_9ae18ec735" x="265.513907" y="301.646296" style="fill: #e2d9e2; fill-opacity: 0.8; stroke: #808080; stroke-opacity: 0.8; stroke-width: 0.8"/>
</g>
</g>
<g id="matplotlib.axis_5">
<g id="xtick_11">
<g id="line2d_32">
<g>
<use href="#m1504cfccaf" x="223.915355" y="373.559124" style="stroke: #000000; stroke-width: 0.8"/>
</g>
</g>
<g id="text_16">
<text style="font-size: 10.8px; font-family: 'Liberation Sans'; letter-spacing: 0.45px; text-anchor: middle" x="224.1404" y="389.485749" transform="rotate(-0 223.915355 389.485749)">8.0</text>
</g>
</g>
<g id="xtick_12">
<g id="line2d_33">
<g>
<use href="#m1504cfccaf" x="291.082016" y="373.559124" style="stroke: #000000; stroke-width: 0.8"/>
</g>
</g>
<g id="text_17">
<text style="font-size: 10.8px; font-family: 'Liberation Sans'; letter-spacing: 0.45px; text-anchor: middle" x="291.3070" y="389.485749" transform="rotate(-0 291.082016 389.485749)">9.5</text>
</g>
</g>
<g id="text_18">
<text style="font-style: italic; font-size: 12.8px; font-family: 'Liberation Sans'; text-anchor: middle" x="257.991241" y="405.002749" transform="rotate(-0 257.991241 405.002749)">PER3</text>
</g>
</g>
<g id="matplotlib.axis_6">
<g id="ytick_6">
<g id="line2d_34">
<g>
<use href="#m5d545ce8f8" x="202.283212" y="355.991449" style="stroke: #000000; stroke-width: 0.8"/>
</g>
</g>
<g id="text_19">
<text style="font-size: 10.8px; font-family: 'Liberation Sans'; letter-spacing: 0.45px; text-anchor: end" x="195.7332" y="359.904762" transform="rotate(-0 195.283212 359.904762)">8.5</text>
</g>
</g>
<g id="ytick_7">
<g id="line2d_35">
<g>
<use href="#m5d545ce8f8" x="202.283212" y="281.63092" style="stroke: #000000; stroke-width: 0.8"/>
</g>
</g>
<g id="text_20">
<text style="font-size: 10.8px; font-family: 'Liberation Sans'; letter-spacing: 0.45px; text-anchor: end" x="195.7332" y="285.544232" transform="rotate(-0 195.283212 285.544232)">9.7</text>
</g>
</g>
<g id="text_21">
<text style="font-style: italic; font-size: 12.8px; font-family: 'Liberation Sans'; text-anchor: middle" x="173.615212" y="316.642336" transform="rotate(-90 173.615212 316.642336)">TEF</text>
</g>
</g>
<g id="line2d_36">
<path d="M 259.42413 308.710546 
L 221.139133 334.922633 
L 208.556578 355.991449 
L 209.004356 368.384871 
L 217.153911 353.264896 
L 249.214797 326.804941 
L 275.588906 309.763987 
L 296.903127 275.434209 
L 307.963237 264.899801 
L 302.948126 267.998156 
L 294.798571 287.20796 
L 275.588906 301.646296 
L 253.78213 318.873152 
L 227.766243 336.657712 
L 209.407356 347.873758 
L 207.347578 361.816357 
L 208.153578 356.425219 
L 266.364685 309.144316 
L 286.649017 284.109604 
L 300.485349 277.912894 
L 308.634904 264.899801 
L 303.798904 268.307992 
L 287.499794 284.357473 
L 265.513907 301.646296 
" clip-path="url(#p6135577546)" style="fill: none; stroke: #949494; stroke-width: 1.35; stroke-linecap: square"/>
</g>
<g id="patch_20">
<path d="M 202.283212 373.559124 
L 202.283212 259.725547 
" style="fill: none; stroke: #000000; stroke-width: 0.8; stroke-linejoin: miter; stroke-linecap: square"/>
</g>
<g id="patch_21">
<path d="M 313.69927 373.559124 
L 313.69927 259.725547 
" style="fill: none; stroke: #000000; stroke-width: 0.8; stroke-linejoin: miter; stroke-linecap: square"/>
</g>
<g id="patch_22">
<path d="M 202.283212 373.559124 
L 313.69927 373.559124 
" style="fill: none; stroke: #000000; stroke-width: 0.8; stroke-linejoin: miter; stroke-linecap: square"/>
</g>
<g id="patch_23">
<path d="M 202.283212 259.725547 
L 313.69927 259.725547 
" style="fill: none; stroke: #000000; stroke-width: 0.8; stroke-linejoin: miter; stroke-linecap: square"/>
</g>
</g>
<g id="axes_4">
<g id="patch_24">
<path d="M 39.626277 548.040876 
L 150.832117 548.040876 
L 150.832117 434.522628 
L 39.626277 434.522628 
z
" style="fill: #ffffff"/>
</g>
<g id="PathCollection_6">
<defs>
<path id="C2_0_9ae18ec735" d="M 0 5.244044 
C 1.390737 5.244044 2.7247 4.691499 3.708099 3.708099 
C 4.691499 2.7247 5.244044 1.390737 5.244044 -0 
C 5.244044 -1.390737 4.691499 -2.7247 3.708099 -3.708099 
C 2.7247 -4.691499 1.390737 -5.244044 0 -5.244044 
C -1.390737 -5.244044 -2.7247 -4.691499 -3.708099 -3.708099 
C -4.691499 -2.7247 -5.244044 -1.390737 -5.244044 0 
C -5.244044 1.390737 -4.691499 2.7247 -3.708099 3.708099 
C -2.7247 4.691499 -1.390737 5.244044 0 5.244044 
z
"/>
</defs>
<g clip-path="url(#pccd951a05e)">
<use href="#C2_0_9ae18ec735" x="96.659382" y="445.182343" style="fill: #e2d9e2; fill-opacity: 0.8; stroke: #808080; stroke-opacity: 0.8; stroke-width: 0.8"/>
</g>
<g clip-path="url(#pccd951a05e)">
<use href="#C2_0_9ae18ec735" x="58.446621" y="454.760639" style="fill: #adc3cd; fill-opacity: 0.8; stroke: #808080; stroke-opacity: 0.8; stroke-width: 0.8"/>
</g>
<g clip-path="url(#pccd951a05e)">
<use href="#C2_0_9ae18ec735" x="45.887807" y="484.484252" style="fill: #759ac1; fill-opacity: 0.8; stroke: #808080; stroke-opacity: 0.8; stroke-width: 0.8"/>
</g>
<g clip-path="url(#pccd951a05e)">
<use href="#C2_0_9ae18ec735" x="46.33474" y="505.30932" style="fill: #6068b6; fill-opacity: 0.8; stroke: #808080; stroke-opacity: 0.8; stroke-width: 0.8"/>
</g>
<g clip-path="url(#pccd951a05e)">
<use href="#C2_0_9ae18ec735" x="54.468918" y="538.864251" style="fill: #5b3196; fill-opacity: 0.8; stroke: #808080; stroke-opacity: 0.8; stroke-width: 0.8"/>
</g>
<g clip-path="url(#pccd951a05e)">
<use href="#C2_0_9ae18ec735" x="86.469313" y="533.30266" style="fill: #3e1150; fill-opacity: 0.8; stroke: #808080; stroke-opacity: 0.8; stroke-width: 0.8"/>
</g>
<g clip-path="url(#pccd951a05e)">
<use href="#C2_0_9ae18ec735" x="112.793659" y="542.880956" style="fill: #41123d; fill-opacity: 0.8; stroke: #808080; stroke-opacity: 0.8; stroke-width: 0.8"/>
</g>
<g clip-path="url(#pccd951a05e)">
<use href="#C2_0_9ae18ec735" x="134.067664" y="506.977797" style="fill: #7b2150; fill-opacity: 0.8; stroke: #808080; stroke-opacity: 0.8; stroke-width: 0.8"/>
</g>
<g clip-path="url(#pccd951a05e)">
<use href="#C2_0_9ae18ec735" x="145.106907" y="486.770684" style="fill: #a94950; fill-opacity: 0.8; stroke: #808080; stroke-opacity: 0.8; stroke-width: 0.8"/>
</g>
<g clip-path="url(#pccd951a05e)">
<use href="#C2_0_9ae18ec735" x="140.101258" y="471.507207" style="fill: #c48065; fill-opacity: 0.8; stroke: #808080; stroke-opacity: 0.8; stroke-width: 0.8"/>
</g>
<g clip-path="url(#pccd951a05e)">
<use href="#C2_0_9ae18ec735" x="131.96708" y="460.445821" style="fill: #d2b7a5; fill-opacity: 0.8; stroke: #808080; stroke-opacity: 0.8; stroke-width: 0.8"/>
</g>
<g clip-path="url(#pccd951a05e)">
<use href="#C2_0_9ae18ec735" x="112.793659" y="446.912616" style="fill: #e2d9e2; fill-opacity: 0.8; stroke: #808080; stroke-opacity: 0.8; stroke-width: 0.8"/>
</g>
<g clip-path="url(#pccd951a05e)">
<use href="#C2_0_9ae18ec735" x="91.028028" y="452.288821" style="fill: #e2d9e2; fill-opacity: 0.8; stroke: #808080; stroke-opacity: 0.8; stroke-width: 0.8"/>
</g>
<g clip-path="url(#pccd951a05e)">
<use href="#C2_0_9ae18ec735" x="65.061228" y="455.316798" style="fill: #adc3cd; fill-opacity: 0.8; stroke: #808080; stroke-opacity: 0.8; stroke-width: 0.8"/>
</g>
<g clip-path="url(#pccd951a05e)">
<use href="#C2_0_9ae18ec735" x="46.73698" y="474.411593" style="fill: #759ac1; fill-opacity: 0.8; stroke: #808080; stroke-opacity: 0.8; stroke-width: 0.8"/>
</g>
<g clip-path="url(#pccd951a05e)">
<use href="#C2_0_9ae18ec735" x="44.681088" y="501.292615" style="fill: #6068b6; fill-opacity: 0.8; stroke: #808080; stroke-opacity: 0.8; stroke-width: 0.8"/>
</g>
<g clip-path="url(#pccd951a05e)">
<use href="#C2_0_9ae18ec735" x="45.485567" y="517.66841" style="fill: #5b3196; fill-opacity: 0.8; stroke: #808080; stroke-opacity: 0.8; stroke-width: 0.8"/>
</g>
<g clip-path="url(#pccd951a05e)">
<use href="#C2_0_9ae18ec735" x="103.586842" y="538.864251" style="fill: #3e1150; fill-opacity: 0.8; stroke: #808080; stroke-opacity: 0.8; stroke-width: 0.8"/>
</g>
<g clip-path="url(#pccd951a05e)">
<use href="#C2_0_9ae18ec735" x="123.832901" y="527.617479" style="fill: #41123d; fill-opacity: 0.8; stroke: #808080; stroke-opacity: 0.8; stroke-width: 0.8"/>
</g>
<g clip-path="url(#pccd951a05e)">
<use href="#C2_0_9ae18ec735" x="137.643127" y="502.404933" style="fill: #7b2150; fill-opacity: 0.8; stroke: #808080; stroke-opacity: 0.8; stroke-width: 0.8"/>
</g>
<g clip-path="url(#pccd951a05e)">
<use href="#C2_0_9ae18ec735" x="145.777306" y="477.254184" style="fill: #a94950; fill-opacity: 0.8; stroke: #808080; stroke-opacity: 0.8; stroke-width: 0.8"/>
</g>
<g clip-path="url(#pccd951a05e)">
<use href="#C2_0_9ae18ec735" x="140.950431" y="457.60323" style="fill: #c48065; fill-opacity: 0.8; stroke: #808080; stroke-opacity: 0.8; stroke-width: 0.8"/>
</g>
<g clip-path="url(#pccd951a05e)">
<use href="#C2_0_9ae18ec735" x="124.682074" y="446.356457" style="fill: #d2b7a5; fill-opacity: 0.8; stroke: #808080; stroke-opacity: 0.8; stroke-width: 0.8"/>
</g>
<g clip-path="url(#pccd951a05e)">
<use href="#C2_0_9ae18ec735" x="102.737669" y="439.682548" style="fill: #e2d9e2; fill-opacity: 0.8; stroke: #808080; stroke-opacity: 0.8; stroke-width: 0.8"/>
</g>
</g>
<g id="matplotlib.axis_7">
<g id="xtick_13">
<g id="line2d_37">
<g>
<use href="#m1504cfccaf" x="61.217605" y="548.040876" style="stroke: #000000; stroke-width: 0.8"/>
</g>
</g>
<g id="text_22">
<text style="font-size: 10.8px; font-family: 'Liberation Sans'; letter-spacing: 0.45px; text-anchor: middle" x="61.4426" y="563.967501" transform="rotate(-0 61.217605 563.967501)">8.0</text>
</g>
</g>
<g id="xtick_14">
<g id="line2d_38">
<g>
<use href="#m1504cfccaf" x="128.257537" y="548.040876" style="stroke: #000000; stroke-width: 0.8"/>
</g>
</g>
<g id="text_23">
<text style="font-size: 10.8px; font-family: 'Liberation Sans'; letter-spacing: 0.45px; text-anchor: middle" x="128.4825" y="563.967501" transform="rotate(-0 128.257537 563.967501)">9.5</text>
</g>
</g>
<g id="text_24">
<text style="font-style: italic; font-size: 12.8px; font-family: 'Liberation Sans'; text-anchor: middle" x="95.229197" y="579.484501" transform="rotate(-0 95.229197 579.484501)">PER3</text>
</g>
</g>
<g id="matplotlib.axis_8">
<g id="ytick_8">
<g id="line2d_39">
<g>
<use href="#m5d545ce8f8" x="39.626277" y="535.156524" style="stroke: #000000; stroke-width: 0.8"/>
</g>
</g>
<g id="text_25">
<text style="font-size: 10.8px; font-family: 'Liberation Sans'; letter-spacing: 0.45px; text-anchor: end" x="33.0763" y="539.069836" transform="rotate(-0 32.626277 539.069836)">8.1</text>
</g>
</g>
<g id="ytick_9">
<g id="line2d_40">
<g>
<use href="#m5d545ce8f8" x="39.626277" y="448.642889" style="stroke: #000000; stroke-width: 0.8"/>
</g>
</g>
<g id="text_26">
<text style="font-size: 10.8px; font-family: 'Liberation Sans'; letter-spacing: 0.45px; text-anchor: end" x="33.0763" y="452.556201" transform="rotate(-0 32.626277 452.556201)">9.5</text>
</g>
</g>
<g id="text_27">
<text style="font-style: italic; font-size: 12.8px; font-family: 'Liberation Sans'; text-anchor: middle" x="10.958277" y="491.281752" transform="rotate(-90 10.958277 491.281752)">RORC</text>
</g>
</g>
<g id="line2d_41">
<path d="M 96.659382 445.182343 
L 58.446621 454.760639 
L 45.887807 484.484252 
L 46.33474 505.30932 
L 54.468918 538.864251 
L 86.469313 533.30266 
L 112.793659 542.880956 
L 134.067664 506.977797 
L 145.106907 486.770684 
L 140.101258 471.507207 
L 131.96708 460.445821 
L 112.793659 446.912616 
L 91.028028 452.288821 
L 65.061228 455.316798 
L 46.73698 474.411593 
L 44.681088 501.292615 
L 45.485567 517.66841 
L 103.586842 538.864251 
L 123.832901 527.617479 
L 137.643127 502.404933 
L 145.777306 477.254184 
L 140.950431 457.60323 
L 124.682074 446.356457 
L 102.737669 439.682548 
" clip-path="url(#pccd951a05e)" style="fill: none; stroke: #949494; stroke-width: 1.35; stroke-linecap: square"/>
</g>
<g id="patch_25">
<path d="M 39.626277 548.040876 
L 39.626277 434.522628 
" style="fill: none; stroke: #000000; stroke-width: 0.8; stroke-linejoin: miter; stroke-linecap: square"/>
</g>
<g id="patch_26">
<path d="M 150.832117 548.040876 
L 150.832117 434.522628 
" style="fill: none; stroke: #000000; stroke-width: 0.8; stroke-linejoin: miter; stroke-linecap: square"/>
</g>
<g id="patch_27">
<path d="M 39.626277 548.040876 
L 150.832117 548.040876 
" style="fill: none; stroke: #000000; stroke-width: 0.8; stroke-linejoin: miter; stroke-linecap: square"/>
</g>
<g id="patch_28">
<path d="M 39.626277 434.522628 
L 150.832117 434.522628 
" style="fill: none; stroke: #000000; stroke-width: 0.8; stroke-linejoin: miter; stroke-linecap: square"/>
</g>
</g>
<g id="axes_5">
<g id="patch_29">
<path d="M 202.388321 548.040876 
L 313.751825 548.040876 
L 313.751825 434.522628 
L 202.388321 434.522628 
z
" style="fill: #ffffff"/>
</g>
<g id="PathCollection_7">
<defs>
<path id="C3_0_9ae18ec735" d="M 0 5.244044 
C 1.390737 5.244044 2.7247 4.691499 3.708099 3.708099 
C 4.691499 2.7247 5.244044 1.390737 5.244044 -0 
C 5.244044 -1.390737 4.691499 -2.7247 3.708099 -3.708099 
C 2.7247 -4.691499 1.390737 -5.244044 0 -5.244044 
C -1.390737 -5.244044 -2.7247 -4.691499 -3.708099 -3.708099 
C -4.691499 -2.7247 -5.244044 -1.390737 -5.244044 0 
C -5.244044 1.390737 -4.691499 2.7247 -3.708099 3.708099 
C -2.7247 4.691499 -1.390737 5.244044 0 5.244044 
z
"/>
</defs>
<g clip-path="url(#p440d08dc05)">
<use href="#C3_0_9ae18ec735" x="281.353284" y="445.182343" style="fill: #e2d9e2; fill-opacity: 0.8; stroke: #808080; stroke-opacity: 0.8; stroke-width: 0.8"/>
</g>
<g clip-path="url(#p440d08dc05)">
<use href="#C3_0_9ae18ec735" x="305.579135" y="454.760639" style="fill: #adc3cd; fill-opacity: 0.8; stroke: #808080; stroke-opacity: 0.8; stroke-width: 0.8"/>
</g>
<g clip-path="url(#p440d08dc05)">
<use href="#C3_0_9ae18ec735" x="308.218527" y="484.484252" style="fill: #759ac1; fill-opacity: 0.8; stroke: #808080; stroke-opacity: 0.8; stroke-width: 0.8"/>
</g>
<g clip-path="url(#p440d08dc05)">
<use href="#C3_0_9ae18ec735" x="308.689847" y="505.30932" style="fill: #6068b6; fill-opacity: 0.8; stroke: #808080; stroke-opacity: 0.8; stroke-width: 0.8"/>
</g>
<g clip-path="url(#p440d08dc05)">
<use href="#C3_0_9ae18ec735" x="298.226542" y="538.864251" style="fill: #5b3196; fill-opacity: 0.8; stroke: #808080; stroke-opacity: 0.8; stroke-width: 0.8"/>
</g>
<g clip-path="url(#p440d08dc05)">
<use href="#C3_0_9ae18ec735" x="279.593689" y="533.30266" style="fill: #3e1150; fill-opacity: 0.8; stroke: #808080; stroke-opacity: 0.8; stroke-width: 0.8"/>
</g>
<g clip-path="url(#p440d08dc05)">
<use href="#C3_0_9ae18ec735" x="251.66012" y="542.880956" style="fill: #41123d; fill-opacity: 0.8; stroke: #808080; stroke-opacity: 0.8; stroke-width: 0.8"/>
</g>
<g clip-path="url(#p440d08dc05)">
<use href="#C3_0_9ae18ec735" x="216.373958" y="506.977797" style="fill: #7b2150; fill-opacity: 0.8; stroke: #808080; stroke-opacity: 0.8; stroke-width: 0.8"/>
</g>
<g clip-path="url(#p440d08dc05)">
<use href="#C3_0_9ae18ec735" x="216.562486" y="486.770684" style="fill: #a94950; fill-opacity: 0.8; stroke: #808080; stroke-opacity: 0.8; stroke-width: 0.8"/>
</g>
<g clip-path="url(#p440d08dc05)">
<use href="#C3_0_9ae18ec735" x="211.220859" y="471.507207" style="fill: #c48065; fill-opacity: 0.8; stroke: #808080; stroke-opacity: 0.8; stroke-width: 0.8"/>
</g>
<g clip-path="url(#p440d08dc05)">
<use href="#C3_0_9ae18ec735" x="229.162443" y="460.445821" style="fill: #d2b7a5; fill-opacity: 0.8; stroke: #808080; stroke-opacity: 0.8; stroke-width: 0.8"/>
</g>
<g clip-path="url(#p440d08dc05)">
<use href="#C3_0_9ae18ec735" x="261.652105" y="446.912616" style="fill: #e2d9e2; fill-opacity: 0.8; stroke: #808080; stroke-opacity: 0.8; stroke-width: 0.8"/>
</g>
<g clip-path="url(#p440d08dc05)">
<use href="#C3_0_9ae18ec735" x="278.242572" y="452.288821" style="fill: #e2d9e2; fill-opacity: 0.8; stroke: #808080; stroke-opacity: 0.8; stroke-width: 0.8"/>
</g>
<g clip-path="url(#p440d08dc05)">
<use href="#C3_0_9ae18ec735" x="300.457457" y="455.316798" style="fill: #adc3cd; fill-opacity: 0.8; stroke: #808080; stroke-opacity: 0.8; stroke-width: 0.8"/>
</g>
<g clip-path="url(#p440d08dc05)">
<use href="#C3_0_9ae18ec735" x="303.065428" y="474.411593" style="fill: #759ac1; fill-opacity: 0.8; stroke: #808080; stroke-opacity: 0.8; stroke-width: 0.8"/>
</g>
<g clip-path="url(#p440d08dc05)">
<use href="#C3_0_9ae18ec735" x="305.893348" y="501.292615" style="fill: #6068b6; fill-opacity: 0.8; stroke: #808080; stroke-opacity: 0.8; stroke-width: 0.8"/>
</g>
<g clip-path="url(#p440d08dc05)">
<use href="#C3_0_9ae18ec735" x="304.825023" y="517.66841" style="fill: #5b3196; fill-opacity: 0.8; stroke: #808080; stroke-opacity: 0.8; stroke-width: 0.8"/>
</g>
<g clip-path="url(#p440d08dc05)">
<use href="#C3_0_9ae18ec735" x="266.805205" y="538.864251" style="fill: #3e1150; fill-opacity: 0.8; stroke: #808080; stroke-opacity: 0.8; stroke-width: 0.8"/>
</g>
<g clip-path="url(#p440d08dc05)">
<use href="#C3_0_9ae18ec735" x="239.751433" y="527.617479" style="fill: #41123d; fill-opacity: 0.8; stroke: #808080; stroke-opacity: 0.8; stroke-width: 0.8"/>
</g>
<g clip-path="url(#p440d08dc05)">
<use href="#C3_0_9ae18ec735" x="213.451774" y="502.404933" style="fill: #7b2150; fill-opacity: 0.8; stroke: #808080; stroke-opacity: 0.8; stroke-width: 0.8"/>
</g>
<g clip-path="url(#p440d08dc05)">
<use href="#C3_0_9ae18ec735" x="207.450299" y="477.254184" style="fill: #a94950; fill-opacity: 0.8; stroke: #808080; stroke-opacity: 0.8; stroke-width: 0.8"/>
</g>
<g clip-path="url(#p440d08dc05)">
<use href="#C3_0_9ae18ec735" x="208.612888" y="457.60323" style="fill: #c48065; fill-opacity: 0.8; stroke: #808080; stroke-opacity: 0.8; stroke-width: 0.8"/>
</g>
<g clip-path="url(#p440d08dc05)">
<use href="#C3_0_9ae18ec735" x="248.266616" y="446.356457" style="fill: #d2b7a5; fill-opacity: 0.8; stroke: #808080; stroke-opacity: 0.8; stroke-width: 0.8"/>
</g>
<g clip-path="url(#p440d08dc05)">
<use href="#C3_0_9ae18ec735" x="276.200185" y="439.682548" style="fill: #e2d9e2; fill-opacity: 0.8; stroke: #808080; stroke-opacity: 0.8; stroke-width: 0.8"/>
</g>
</g>
<g id="matplotlib.axis_9">
<g id="xtick_15">
<g id="line2d_42">
<g>
<use href="#m1504cfccaf" x="223.003861" y="548.040876" style="stroke: #000000; stroke-width: 0.8"/>
</g>
</g>
<g id="text_28">
<text style="font-size: 10.8px; font-family: 'Liberation Sans'; letter-spacing: 0.45px; text-anchor: middle" x="223.2289" y="563.967501" transform="rotate(-0 223.003861 563.967501)">6.1</text>
</g>
</g>
<g id="xtick_16">
<g id="line2d_43">
<g>
<use href="#m1504cfccaf" x="295.272936" y="548.040876" style="stroke: #000000; stroke-width: 0.8"/>
</g>
</g>
<g id="text_29">
<text style="font-size: 10.8px; font-family: 'Liberation Sans'; letter-spacing: 0.45px; text-anchor: middle" x="295.4979" y="563.967501" transform="rotate(-0 295.272936 563.967501)">8.4</text>
</g>
</g>
<g id="text_30">
<text style="font-style: italic; font-size: 12.8px; font-family: 'Liberation Sans'; text-anchor: middle" x="258.070073" y="579.484501" transform="rotate(-0 258.070073 579.484501)">ARNTL</text>
</g>
</g>
<g id="matplotlib.axis_10">
<g id="ytick_10">
<g id="line2d_44">
<g>
<use href="#m5d545ce8f8" x="202.388321" y="535.156524" style="stroke: #000000; stroke-width: 0.8"/>
</g>
</g>
<g id="text_31">
<text style="font-size: 10.8px; font-family: 'Liberation Sans'; letter-spacing: 0.45px; text-anchor: end" x="195.8383" y="539.069836" transform="rotate(-0 195.388321 539.069836)">8.1</text>
</g>
</g>
<g id="ytick_11">
<g id="line2d_45">
<g>
<use href="#m5d545ce8f8" x="202.388321" y="448.642889" style="stroke: #000000; stroke-width: 0.8"/>
</g>
</g>
<g id="text_32">
<text style="font-size: 10.8px; font-family: 'Liberation Sans'; letter-spacing: 0.45px; text-anchor: end" x="195.8383" y="452.556201" transform="rotate(-0 195.388321 452.556201)">9.5</text>
</g>
</g>
<g id="text_33">
<text style="font-style: italic; font-size: 12.8px; font-family: 'Liberation Sans'; text-anchor: middle" x="173.720321" y="491.281752" transform="rotate(-90 173.720321 491.281752)">RORC</text>
</g>
</g>
<g id="line2d_46">
<path d="M 281.353284 445.182343 
L 305.579135 454.760639 
L 308.218527 484.484252 
L 308.689847 505.30932 
L 298.226542 538.864251 
L 279.593689 533.30266 
L 251.66012 542.880956 
L 216.373958 506.977797 
L 216.562486 486.770684 
L 211.220859 471.507207 
L 229.162443 460.445821 
L 261.652105 446.912616 
L 278.242572 452.288821 
L 300.457457 455.316798 
L 303.065428 474.411593 
L 305.893348 501.292615 
L 304.825023 517.66841 
L 266.805205 538.864251 
L 239.751433 527.617479 
L 213.451774 502.404933 
L 207.450299 477.254184 
L 208.612888 457.60323 
L 248.266616 446.356457 
L 276.200185 439.682548 
" clip-path="url(#p440d08dc05)" style="fill: none; stroke: #949494; stroke-width: 1.35; stroke-linecap: square"/>
</g>
<g id="patch_30">
<path d="M 202.388321 548.040876 
L 202.388321 434.522628 
" style="fill: none; stroke: #000000; stroke-width: 0.8; stroke-linejoin: miter; stroke-linecap: square"/>
</g>
<g id="patch_31">
<path d="M 313.751825 548.040876 
L 313.751825 434.522628 
" style="fill: none; stroke: #000000; stroke-width: 0.8; stroke-linejoin: miter; stroke-linecap: square"/>
</g>
<g id="patch_32">
<path d="M 202.388321 548.040876 
L 313.751825 548.040876 
" style="fill: none; stroke: #000000; stroke-width: 0.8; stroke-linejoin: miter; stroke-linecap: square"/>
</g>
<g id="patch_33">
<path d="M 202.388321 434.522628 
L 313.751825 434.522628 
" style="fill: none; stroke: #000000; stroke-width: 0.8; stroke-linejoin: miter; stroke-linecap: square"/>
</g>
</g>
<g id="patch_34">
<path d="M 365.334307 540.856642 
L 640.542482 540.856642 
L 640.542482 265.648467 
L 365.334307 265.648467 
z
" style="fill: #ffffff"/>
</g>
<g id="pane3d_1">
<g id="patch_35">
<path d="M 516.314197 405.717009 
L 629.715423 463.26394 
L 635.061868 342.405768 
L 516.697728 292.949943 
" style="fill: #f2f2f2; opacity: 0.5; stroke: #f2f2f2; stroke-linejoin: miter"/>
</g>
</g>
<g id="pane3d_2">
<g id="patch_36">
<path d="M 516.314197 405.717009 
L 385.320614 453.516858 
L 380.12584 334.004179 
L 516.697728 292.949943 
" style="fill: #e6e6e6; opacity: 0.5; stroke: #e6e6e6; stroke-linejoin: miter"/>
</g>
</g>
<g id="pane3d_3">
<g id="patch_37">
<path d="M 516.314197 405.717009 
L 385.320614 453.516858 
L 495.267798 520.440919 
L 629.715423 463.26394 
" style="fill: #ececec; opacity: 0.5; stroke: #ececec; stroke-linejoin: miter"/>
</g>
</g>
<g id="grid3d_1">
<g id="Line3DCollection_1">
<path d="M 603.663119 474.343288 
L 490.79272 415.029852 
L 490.153085 300.929404 
" style="fill: none; stroke: #b0b0b0; stroke-width: 0.8"/>
<path d="M 525.986431 507.377106 
L 415.09443 442.652327 
L 411.238949 324.651413 
" style="fill: none; stroke: #b0b0b0; stroke-width: 0.8"/>
</g>
</g>
<g id="grid3d_2">
<g id="Line3DCollection_2">
<path d="M 535.43445 300.778665 
L 534.319481 414.854025 
L 402.67855 464.082509 
" style="fill: none; stroke: #b0b0b0; stroke-width: 0.8"/>
<path d="M 612.230917 332.866362 
L 607.904913 452.195912 
L 474.006039 507.499039 
" style="fill: none; stroke: #b0b0b0; stroke-width: 0.8"/>
</g>
</g>
<g id="grid3d_3">
<g id="Line3DCollection_3">
<path d="M 384.674779 438.658563 
L 516.362003 391.660805 
L 630.379761 448.246359 
" style="fill: none; stroke: #b0b0b0; stroke-width: 0.8"/>
<path d="M 380.876579 351.275929 
L 516.642442 309.205413 
L 634.288808 359.881045 
" style="fill: none; stroke: #b0b0b0; stroke-width: 0.8"/>
</g>
</g>
<g id="axis3d_1">
<g id="line2d_47">
<path d="M 629.715423 463.26394 
L 495.267798 520.440919 
" style="fill: none; stroke: #000000; stroke-width: 0.8; stroke-linecap: square"/>
</g>
<g id="xtick_17">
<g id="line2d_48">
<path d="M 602.678307 473.825769 
L 605.637072 475.380601 
" style="fill: none; stroke: #000000; stroke-width: 0.8; stroke-linecap: square"/>
</g>
<g id="text_34">
<text style="font-size: 10.8px; font-family: 'Liberation Sans'; letter-spacing: 0.45px; text-anchor: middle" x="614.4019" y="498.232265" transform="rotate(-0 614.176915 498.232265)">8.0</text>
</g>
</g>
<g id="xtick_18">
<g id="line2d_49">
<path d="M 525.015132 506.810183 
L 527.933499 508.513559 
" style="fill: none; stroke: #000000; stroke-width: 0.8; stroke-linecap: square"/>
</g>
<g id="text_35">
<text style="font-size: 10.8px; font-family: 'Liberation Sans'; letter-spacing: 0.45px; text-anchor: middle" x="536.8652" y="532.16901" transform="rotate(-0 536.640232 532.16901)">9.5</text>
</g>
</g>
<g id="text_36">
<text style="font-style: italic; font-size: 12.8px; font-family: 'Liberation Sans'; text-anchor: middle" x="586.239144" y="526.934385" transform="rotate(-0 586.239144 526.934385)">PER3</text>
</g>
</g>
<g id="axis3d_2">
<g id="line2d_50">
<path d="M 385.320614 453.516858 
L 495.267798 520.440919 
" style="fill: none; stroke: #000000; stroke-width: 0.8; stroke-linecap: square"/>
</g>
<g id="xtick_19">
<g id="line2d_51">
<path d="M 403.810938 463.65904 
L 400.409642 464.93099 
" style="fill: none; stroke: #000000; stroke-width: 0.8; stroke-linecap: square"/>
</g>
<g id="text_37">
<text style="font-size: 10.8px; font-family: 'Liberation Sans'; letter-spacing: 0.45px; text-anchor: middle" x="390.7979" y="486.800419" transform="rotate(-0 390.572858 486.800419)">6.0</text>
</g>
</g>
<g id="xtick_20">
<g id="line2d_52">
<path d="M 475.162864 507.021245 
L 471.687906 508.456478 
" style="fill: none; stroke: #000000; stroke-width: 0.8; stroke-linecap: square"/>
</g>
<g id="text_38">
<text style="font-size: 10.8px; font-family: 'Liberation Sans'; letter-spacing: 0.45px; text-anchor: middle" x="461.5983" y="531.285792" transform="rotate(-0 461.373313 531.285792)">8.4</text>
</g>
</g>
<g id="text_39">
<text style="font-style: italic; font-size: 12.8px; font-family: 'Liberation Sans'; text-anchor: middle" x="411.405166" y="518.93088" transform="rotate(-328.671426 411.405166 518.93088)">ARNTL</text>
</g>
</g>
<g id="axis3d_3">
<g id="line2d_53">
<path d="M 385.320614 453.516858 
L 380.12584 334.004179 
" style="fill: none; stroke: #000000; stroke-width: 0.8; stroke-linecap: square"/>
</g>
<g id="xtick_21">
<g id="line2d_54">
<path d="M 385.806781 438.254563 
L 382.406687 439.468021 
" style="fill: none; stroke: #000000; stroke-width: 0.8; stroke-linecap: square"/>
</g>
<g id="text_40">
<text style="font-size: 10.8px; font-family: 'Liberation Sans'; letter-spacing: 0.45px; text-anchor: middle" x="363.6312" y="445.655255" transform="rotate(-0 363.406231 445.655255)">8.1</text>
</g>
</g>
<g id="xtick_22">
<g id="line2d_55">
<path d="M 382.04616 350.913504 
L 378.533061 352.002128 
" style="fill: none; stroke: #000000; stroke-width: 0.8; stroke-linecap: square"/>
</g>
<g id="text_41">
<text style="font-size: 10.8px; font-family: 'Liberation Sans'; letter-spacing: 0.45px; text-anchor: middle" x="359.1765" y="358.358043" transform="rotate(-0 358.951465 358.358043)">9.5</text>
</g>
</g>
<g id="text_42">
<text style="font-style: italic; font-size: 12.8px; font-family: 'Liberation Sans'; text-anchor: middle" x="343.290205" y="393.451106" transform="rotate(-90 343.290205 393.451106)">RORC</text>
</g>
</g>
<g id="axes_6">
<g id="line2d_56">
<path d="M 528.672454 363.616725 
L 598.789193 369.868923 
L 614.660022 396.849394 
L 613.868247 418.497549 
L 592.74094 450.117644 
L 537.948323 449.070542 
L 480.129073 455.480497 
L 421.313036 410.886584 
L 407.308559 395.225431 
L 408.113599 374.964338 
L 434.354994 368.857572 
L 489.111775 362.501293 
L 532.097675 367.333976 
L 585.689817 370.678646 
L 608.553682 384.290241 
L 612.85088 412.290648 
L 610.220929 428.562283 
L 505.482415 455.480128 
L 455.624044 439.010189 
L 414.190466 406.356731 
L 397.904592 381.332323 
L 404.19953 359.75904 
L 461.313855 360.293289 
L 516.064952 357.725064 
" clip-path="url(#p58fe666b0f)" style="fill: none; stroke: #505050; stroke-opacity: 0.85; stroke-width: 1.4; stroke-linecap: square"/>
</g>
<g id="Path3DCollection_1">
<defs>
<path id="C4_0_f0c764a6a3" d="M 0 13.601471 
C 3.607152 13.601471 7.06705 12.168334 9.617692 9.617692 
C 12.168334 7.06705 13.601471 3.607152 13.601471 -0 
C 13.601471 -3.607152 12.168334 -7.06705 9.617692 -9.617692 
C 7.06705 -12.168334 3.607152 -13.601471 0 -13.601471 
C -3.607152 -13.601471 -7.06705 -12.168334 -9.617692 -9.617692 
C -12.168334 -7.06705 -13.601471 -3.607152 -13.601471 0 
C -13.601471 3.607152 -12.168334 7.06705 -9.617692 9.617692 
C -7.06705 12.168334 -3.607152 13.601471 0 13.601471 
z
"/>
</defs>
<g clip-path="url(#p58fe666b0f)">
<use href="#C4_0_f0c764a6a3" x="421.313036" y="410.886584" style="fill: #7b2150; fill-opacity: 0.5; stroke: #404040; stroke-opacity: 0.5; stroke-width: 0.8"/>
</g>
<g clip-path="url(#p58fe666b0f)">
<use href="#C4_0_f0c764a6a3" x="592.74094" y="450.117644" style="fill: #5b3196; fill-opacity: 0.5; stroke: #404040; stroke-opacity: 0.5; stroke-width: 0.8"/>
</g>
<g clip-path="url(#p58fe666b0f)">
<use href="#C4_0_f0c764a6a3" x="480.129073" y="455.480497" style="fill: #41123d; fill-opacity: 0.5; stroke: #404040; stroke-opacity: 0.5; stroke-width: 0.8"/>
</g>
<g clip-path="url(#p58fe666b0f)">
<use href="#C4_0_f0c764a6a3" x="414.190466" y="406.356731" style="fill: #7b2150; fill-opacity: 0.5; stroke: #404040; stroke-opacity: 0.5; stroke-width: 0.8"/>
</g>
<g clip-path="url(#p58fe666b0f)">
<use href="#C4_0_f0c764a6a3" x="455.624044" y="439.010189" style="fill: #41123d; fill-opacity: 0.5; stroke: #404040; stroke-opacity: 0.5; stroke-width: 0.8"/>
</g>
<g clip-path="url(#p58fe666b0f)">
<use href="#C4_0_f0c764a6a3" x="610.220929" y="428.562283" style="fill: #5b3196; fill-opacity: 0.5; stroke: #404040; stroke-opacity: 0.5; stroke-width: 0.8"/>
</g>
<g clip-path="url(#p58fe666b0f)">
<use href="#C4_0_f0c764a6a3" x="505.482415" y="455.480128" style="fill: #3e1150; fill-opacity: 0.5; stroke: #404040; stroke-opacity: 0.5; stroke-width: 0.8"/>
</g>
<g clip-path="url(#p58fe666b0f)">
<use href="#C4_0_f0c764a6a3" x="537.948323" y="449.070542" style="fill: #3e1150; fill-opacity: 0.5; stroke: #404040; stroke-opacity: 0.5; stroke-width: 0.8"/>
</g>
<g clip-path="url(#p58fe666b0f)">
<use href="#C4_0_f0c764a6a3" x="397.904592" y="381.332323" style="fill: #a94950; fill-opacity: 0.5; stroke: #404040; stroke-opacity: 0.5; stroke-width: 0.8"/>
</g>
<g clip-path="url(#p58fe666b0f)">
<use href="#C4_0_f0c764a6a3" x="408.113599" y="374.964338" style="fill: #c48065; fill-opacity: 0.5; stroke: #404040; stroke-opacity: 0.5; stroke-width: 0.8"/>
</g>
<g clip-path="url(#p58fe666b0f)">
<use href="#C4_0_f0c764a6a3" x="612.85088" y="412.290648" style="fill: #6068b6; fill-opacity: 0.5; stroke: #404040; stroke-opacity: 0.5; stroke-width: 0.8"/>
</g>
<g clip-path="url(#p58fe666b0f)">
<use href="#C4_0_f0c764a6a3" x="407.308559" y="395.225431" style="fill: #a94950; fill-opacity: 0.5; stroke: #404040; stroke-opacity: 0.5; stroke-width: 0.8"/>
</g>
<g clip-path="url(#p58fe666b0f)">
<use href="#C4_0_f0c764a6a3" x="613.868247" y="418.497549" style="fill: #6068b6; fill-opacity: 0.5; stroke: #404040; stroke-opacity: 0.5; stroke-width: 0.8"/>
</g>
<g clip-path="url(#p58fe666b0f)">
<use href="#C4_0_f0c764a6a3" x="404.19953" y="359.75904" style="fill: #c48065; fill-opacity: 0.5; stroke: #404040; stroke-opacity: 0.5; stroke-width: 0.8"/>
</g>
<g clip-path="url(#p58fe666b0f)">
<use href="#C4_0_f0c764a6a3" x="614.660022" y="396.849394" style="fill: #759ac1; fill-opacity: 0.5; stroke: #404040; stroke-opacity: 0.5; stroke-width: 0.8"/>
</g>
<g clip-path="url(#p58fe666b0f)">
<use href="#C4_0_f0c764a6a3" x="608.553682" y="384.290241" style="fill: #759ac1; fill-opacity: 0.5; stroke: #404040; stroke-opacity: 0.5; stroke-width: 0.8"/>
</g>
<g clip-path="url(#p58fe666b0f)">
<use href="#C4_0_f0c764a6a3" x="434.354994" y="368.857572" style="fill: #d2b7a5; fill-opacity: 0.5; stroke: #404040; stroke-opacity: 0.5; stroke-width: 0.8"/>
</g>
<g clip-path="url(#p58fe666b0f)">
<use href="#C4_0_f0c764a6a3" x="598.789193" y="369.868923" style="fill: #adc3cd; fill-opacity: 0.5; stroke: #404040; stroke-opacity: 0.5; stroke-width: 0.8"/>
</g>
<g clip-path="url(#p58fe666b0f)">
<use href="#C4_0_f0c764a6a3" x="585.689817" y="370.678646" style="fill: #adc3cd; fill-opacity: 0.5; stroke: #404040; stroke-opacity: 0.5; stroke-width: 0.8"/>
</g>
<g clip-path="url(#p58fe666b0f)">
<use href="#C4_0_f0c764a6a3" x="532.097675" y="367.333976" style="fill: #e2d9e2; fill-opacity: 0.5; stroke: #404040; stroke-opacity: 0.5; stroke-width: 0.8"/>
</g>
<g clip-path="url(#p58fe666b0f)">
<use href="#C4_0_f0c764a6a3" x="461.313855" y="360.293289" style="fill: #d2b7a5; fill-opacity: 0.5; stroke: #404040; stroke-opacity: 0.5; stroke-width: 0.8"/>
</g>
<g clip-path="url(#p58fe666b0f)">
<use href="#C4_0_f0c764a6a3" x="489.111775" y="362.501293" style="fill: #e2d9e2; fill-opacity: 0.5; stroke: #404040; stroke-opacity: 0.5; stroke-width: 0.8"/>
</g>
<g clip-path="url(#p58fe666b0f)">
<use href="#C4_0_f0c764a6a3" x="528.672454" y="363.616725" style="fill: #e2d9e2; fill-opacity: 0.5; stroke: #404040; stroke-opacity: 0.5; stroke-width: 0.8"/>
</g>
<g clip-path="url(#p58fe666b0f)">
<use href="#C4_0_f0c764a6a3" x="516.064952" y="357.725064" style="fill: #e2d9e2; fill-opacity: 0.5; stroke: #404040; stroke-opacity: 0.5; stroke-width: 0.8"/>
</g>
</g>
</g>
<g id="axes_7">
<g id="matplotlib.axis_11"/>
<g id="matplotlib.axis_12">
<g id="ytick_12">
<g id="line2d_57">
<defs>
<path id="m33c4ce201d" d="M 0 0 
L 3.5 0 
" style="stroke: #000000; stroke-width: 0.8"/>
</defs>
<g>
<use href="#m33c4ce201d" x="668.181022" y="521.753948" style="stroke: #000000; stroke-width: 0.8"/>
</g>
</g>
<g id="text_43">
<text style="font-size: 10.8px; font-family: 'Liberation Sans'; letter-spacing: 0.45px; text-anchor: start" x="675.1810" y="525.667261" transform="rotate(-0 675.181022 525.667261)">20|44</text>
</g>
</g>
<g id="ytick_13">
<g id="line2d_58">
<g>
<use href="#m33c4ce201d" x="668.181022" y="286.117585" style="stroke: #000000; stroke-width: 0.8"/>
</g>
</g>
<g id="text_44">
<text style="font-size: 10.8px; font-family: 'Liberation Sans'; letter-spacing: 0.45px; text-anchor: start" x="675.1810" y="290.030897" transform="rotate(-0 675.181022 290.030897)">38|62</text>
</g>
</g>
<g id="text_45">
<text style="font-size: 13.7px; font-family: 'Liberation Sans'; text-anchor: middle" x="715.938803" y="403.935766" transform="rotate(-90 715.938803 403.935766)">Time (h)</text>
</g>
</g>
</g>
</g>
<defs>
<clipPath id="p367fd7a08f">
<rect x="68.636496" y="35.211679" width="600.175182" height="169.751825"/>
</clipPath>
<clipPath id="pf50a4223b5">
<rect x="39.521168" y="259.725547" width="111.205839" height="113.833577"/>
</clipPath>
<clipPath id="p6135577546">
<rect x="202.283212" y="259.725547" width="111.416058" height="113.833577"/>
</clipPath>
<clipPath id="pccd951a05e">
<rect x="39.626277" y="434.522628" width="111.205839" height="113.518248"/>
</clipPath>
<clipPath id="p440d08dc05">
<rect x="202.388321" y="434.522628" width="111.363504" height="113.518248"/>
</clipPath>
<clipPath id="p58fe666b0f">
<rect x="365.334307" y="265.648467" width="275.208175" height="275.208175"/>
</clipPath>
</defs>
<g transform="scale(1.051095)" font-family="Liberation Sans, sans-serif">
<g stroke="#555" stroke-width="1" fill="none"><polyline points="271.2,46 271.2,11.9 339.8,11.9 339.8,57"/><polyline points="271.2,28 408.3,28 408.3,86"/></g>
<text x="340.0" y="9.5" style="font-size:13.6px;font-style:italic;" text-anchor="start" fill="#000">Δφ</text>
<text x="358.6" y="15.8" style="font-size:8.9px;font-style:italic;" text-anchor="start" fill="#000">PER3, RORC</text>
<text x="416.0" y="10.1" style="font-size:13.5px;" text-anchor="start" fill="#000">≈ 6 h</text>
<text x="409.4" y="26.0" style="font-size:13.4px;" text-anchor="start" fill="#000">Δφ</text>
<text x="431.5" y="31.6" style="font-size:8.9px;font-style:italic;" text-anchor="start" fill="#000">PER3, ARNTL</text>
<text x="492.0" y="26.9" style="font-size:13.5px;" text-anchor="start" fill="#000">≈ 12 h</text>
<rect x="70.7" y="144.5" width="66.9" height="45.1" rx="2" ry="2" fill="#fff" fill-opacity="0.8" stroke="#ccc" stroke-opacity="0.8" stroke-width="0.8"/>
<circle cx="84.1" cy="152.9" r="4.8" fill="#8b0000" fill-opacity="0.86" stroke="#606060" stroke-opacity="0.9" stroke-width="0.76"/>
<text x="101.0" y="155.4" style="font-size:10.3px;font-style:italic;" text-anchor="start" fill="#000">PER3</text>
<circle cx="84.1" cy="167.2" r="4.8" fill="#191970" fill-opacity="0.86" stroke="#606060" stroke-opacity="0.9" stroke-width="0.76"/>
<text x="101.0" y="169.2" style="font-size:10.3px;font-style:italic;" text-anchor="start" fill="#000">ARNTL</text>
<circle cx="84.1" cy="181.2" r="4.8" fill="#ffc0cb" fill-opacity="0.86" stroke="#606060" stroke-opacity="0.9" stroke-width="0.76"/>
<text x="101.0" y="183.7" style="font-size:10.3px;font-style:italic;" text-anchor="start" fill="#000">RORC</text>
<text x="3.0" y="33.1" style="font-size:15.5px;font-weight:bold;" text-anchor="start" fill="#000">A</text>
<text x="2.4" y="243.0" style="font-size:15.5px;font-weight:bold;" text-anchor="start" fill="#000">B</text>
<text x="154.6" y="243.0" style="font-size:15.5px;font-weight:bold;" text-anchor="start" fill="#000">C</text>
<text x="2.4" y="408.6" style="font-size:15.5px;font-weight:bold;" text-anchor="start" fill="#000">D</text>
<text x="154.6" y="408.6" style="font-size:15.5px;font-weight:bold;" text-anchor="start" fill="#000">E</text>
<text x="337.0" y="289.9" style="font-size:15.5px;font-weight:bold;" text-anchor="start" fill="#000">F</text>
<text x="90.8" y="241.4" style="font-size:13px;letter-spacing:0.4px" text-anchor="middle"><tspan font-style="italic">r</tspan><tspan font-style="italic" font-size="8.8px" dy="2.6">s</tspan><tspan dy="-2.6"> = -0.97</tspan></text>
<text x="245.8" y="241.4" style="font-size:13px;letter-spacing:0.4px" text-anchor="middle"><tspan font-style="italic">r</tspan><tspan font-style="italic" font-size="8.8px" dy="2.6">s</tspan><tspan dy="-2.6"> = 0.98</tspan></text>
<text x="91.0" y="407.6" style="font-size:13px;letter-spacing:0.4px" text-anchor="middle"><tspan font-style="italic">r</tspan><tspan font-style="italic" font-size="8.8px" dy="2.6">s</tspan><tspan dy="-2.6"> = 0.13</tspan></text>
<text x="246.0" y="407.6" style="font-size:13px;letter-spacing:0.4px" text-anchor="middle"><tspan font-style="italic">r</tspan><tspan font-style="italic" font-size="8.8px" dy="2.6">s</tspan><tspan dy="-2.6"> = -0.03</tspan></text>
<defs><linearGradient id="cbg" x1="0" y1="0" x2="0" y2="1"><stop offset="0.0000" stop-color="rgb(240,235,240)"/><stop offset="0.0312" stop-color="rgb(238,233,233)"/><stop offset="0.0625" stop-color="rgb(235,226,221)"/><stop offset="0.0938" stop-color="rgb(231,217,207)"/><stop offset="0.1250" stop-color="rgb(229,207,194)"/><stop offset="0.1562" stop-color="rgb(226,197,182)"/><stop offset="0.1875" stop-color="rgb(224,187,174)"/><stop offset="0.2188" stop-color="rgb(220,177,168)"/><stop offset="0.2500" stop-color="rgb(215,167,165)"/><stop offset="0.2812" stop-color="rgb(209,158,164)"/><stop offset="0.3125" stop-color="rgb(202,150,164)"/><stop offset="0.3438" stop-color="rgb(193,143,164)"/><stop offset="0.3750" stop-color="rgb(183,138,163)"/><stop offset="0.4062" stop-color="rgb(172,135,161)"/><stop offset="0.4375" stop-color="rgb(161,132,157)"/><stop offset="0.4688" stop-color="rgb(152,131,153)"/><stop offset="0.5000" stop-color="rgb(147,133,151)"/><stop offset="0.5312" stop-color="rgb(152,131,158)"/><stop offset="0.5625" stop-color="rgb(158,132,170)"/><stop offset="0.5938" stop-color="rgb(165,137,184)"/><stop offset="0.6250" stop-color="rgb(169,144,197)"/><stop offset="0.6562" stop-color="rgb(171,154,206)"/><stop offset="0.6875" stop-color="rgb(171,164,212)"/><stop offset="0.7188" stop-color="rgb(172,174,216)"/><stop offset="0.7500" stop-color="rgb(173,184,219)"/><stop offset="0.7812" stop-color="rgb(176,193,221)"/><stop offset="0.8125" stop-color="rgb(182,201,223)"/><stop offset="0.8438" stop-color="rgb(190,209,224)"/><stop offset="0.8750" stop-color="rgb(200,216,226)"/><stop offset="0.9062" stop-color="rgb(212,224,229)"/><stop offset="0.9375" stop-color="rgb(224,230,233)"/><stop offset="0.9688" stop-color="rgb(234,234,237)"/><stop offset="1.0000" stop-color="rgb(240,235,240)"/></linearGradient></defs><rect x="621.3" y="247.3" width="14.4" height="274" fill="url(#cbg)" stroke="#222" stroke-width="0.8"/>
</g>
</svg>

</body></html>
